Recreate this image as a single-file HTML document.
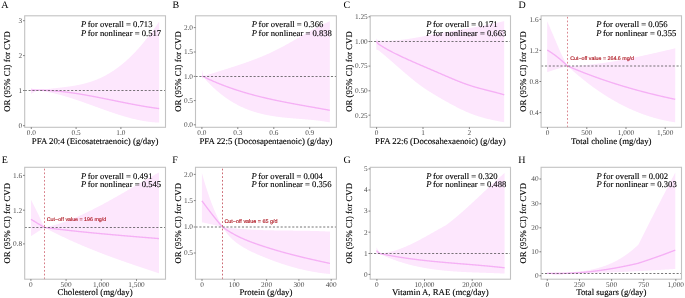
<!DOCTYPE html>
<html><head><meta charset="utf-8"><style>
html,body{margin:0;padding:0;background:#fff;}
svg{display:block;will-change:transform;text-rendering:geometricPrecision;}
.tk{font-family:"Liberation Serif",serif;font-size:7.3px;fill:#4d4d4d;}
.ti{font-family:"Liberation Serif",serif;font-size:8.8px;fill:#000;stroke:#000;stroke-width:0.12px;}
.pv{font-family:"Liberation Serif",serif;font-size:8.63px;fill:#000;stroke:#000;stroke-width:0.12px;}
.lt{font-family:"Liberation Serif",serif;font-size:10px;fill:#000;}
</style></head><body>
<svg width="685" height="298" viewBox="0 0 685 298">
<rect width="685" height="298" fill="#fff"/>
<path d="M31 88.1 L31.5 88.33 L32 88.55 L32.5 88.76 L33 88.95 L33.5 89.14 L34 89.3 L34.5 89.45 L35 89.6 L35.5 89.74 L36 89.87 L36.5 90 L37 90.11 L37.5 90.21 L38 90.3 L38.5 90.22 L39 90.15 L39.5 90.07 L40 90 L40.5 89.93 L41 89.86 L41.5 89.79 L42 89.72 L42.5 89.65 L43 89.59 L43.5 89.52 L44 89.46 L44.5 89.4 L45 89.33 L45.5 89.27 L46 89.21 L46.5 89.15 L47 89.09 L47.5 89.03 L48 88.97 L48.5 88.92 L49 88.86 L49.5 88.8 L50 88.75 L50.5 88.69 L51 88.64 L51.5 88.58 L52 88.53 L52.5 88.47 L53 88.42 L53.5 88.36 L54 88.31 L54.5 88.25 L55 88.2 L55.5 88.15 L56 88.09 L56.5 88.04 L57 87.98 L57.5 87.93 L58 87.87 L58.5 87.82 L59 87.76 L59.5 87.71 L60 87.65 L60.5 87.59 L61 87.54 L61.5 87.48 L62 87.42 L62.5 87.36 L63 87.3 L63.5 87.24 L64 87.18 L64.5 87.12 L65 87.06 L65.5 87 L66 86.93 L66.5 86.87 L67 86.8 L67.5 86.73 L68 86.66 L68.5 86.59 L69 86.52 L69.5 86.45 L70 86.38 L70.5 86.31 L71 86.23 L71.5 86.15 L72 86.07 L72.5 86 L73 85.91 L73.5 85.83 L74 85.75 L74.5 85.66 L75 85.57 L75.5 85.48 L76 85.39 L76.5 85.3 L77 85.21 L77.5 85.11 L78 85.01 L78.5 84.91 L79 84.81 L79.5 84.7 L80 84.6 L80.5 84.49 L81 84.38 L81.5 84.27 L82 84.15 L82.5 84.03 L83 83.91 L83.5 83.79 L84 83.67 L84.5 83.54 L85 83.41 L85.5 83.28 L86 83.14 L86.5 83.01 L87 82.87 L87.5 82.72 L88 82.58 L88.5 82.43 L89 82.28 L89.5 82.13 L90 81.97 L90.5 81.81 L91 81.65 L91.5 81.48 L92 81.31 L92.5 81.14 L93 80.97 L93.5 80.79 L94 80.61 L94.5 80.42 L95 80.23 L95.5 80.04 L96 79.85 L96.5 79.65 L97 79.45 L97.5 79.24 L98 79.03 L98.5 78.82 L99 78.6 L99.5 78.38 L100 78.16 L100.5 77.93 L101 77.7 L101.5 77.47 L102 77.23 L102.5 76.98 L103 76.74 L103.5 76.49 L104 76.23 L104.5 75.97 L105 75.71 L105.5 75.45 L106 75.18 L106.5 74.9 L107 74.62 L107.5 74.34 L108 74.06 L108.5 73.77 L109 73.47 L109.5 73.17 L110 72.87 L110.5 72.56 L111 72.25 L111.5 71.94 L112 71.62 L112.5 71.3 L113 70.97 L113.5 70.64 L114 70.3 L114.5 69.96 L115 69.62 L115.5 69.27 L116 68.92 L116.5 68.56 L117 68.2 L117.5 67.83 L118 67.46 L118.5 67.09 L119 66.71 L119.5 66.33 L120 65.94 L120.5 65.55 L121 65.16 L121.5 64.75 L122 64.35 L122.5 63.94 L123 63.53 L123.5 63.11 L124 62.69 L124.5 62.26 L125 61.83 L125.5 61.39 L126 60.95 L126.5 60.51 L127 60.06 L127.5 59.6 L128 59.14 L128.5 58.68 L129 58.21 L129.5 57.74 L130 57.26 L130.5 56.78 L131 56.29 L131.5 55.8 L132 55.3 L132.5 54.8 L133 54.3 L133.5 53.78 L134 53.27 L134.5 52.75 L135 52.22 L135.5 51.69 L136 51.16 L136.5 50.62 L137 50.07 L137.5 49.53 L138 48.97 L138.5 48.41 L139 47.85 L139.5 47.28 L140 46.71 L140.5 46.13 L141 45.55 L141.5 44.96 L142 44.37 L142.5 43.77 L143 43.17 L143.5 42.56 L144 41.96 L144.5 41.34 L145 40.72 L145.5 40.1 L146 39.48 L146.5 38.84 L147 38.21 L147.5 37.57 L148 36.93 L148.5 36.28 L149 35.63 L149.5 34.98 L150 34.32 L150.5 33.66 L151 32.99 L151.5 32.33 L152 31.65 L152.5 30.98 L153 30.3 L153.5 29.61 L154 28.93 L154.5 28.24 L155 27.55 L155.5 26.85 L156 26.15 L156.5 25.45 L157 24.74 L157.5 24.03 L158 23.32 L158.5 22.6 L159 21.89 L159.2 21.6 L159.2 122.6 L159 122.59 L158.5 122.58 L158 122.56 L157.5 122.53 L157 122.51 L156.5 122.48 L156 122.45 L155.5 122.42 L155 122.39 L154.5 122.35 L154 122.31 L153.5 122.27 L153 122.23 L152.5 122.18 L152 122.13 L151.5 122.08 L151 122.03 L150.5 121.97 L150 121.91 L149.5 121.85 L149 121.79 L148.5 121.73 L148 121.66 L147.5 121.59 L147 121.52 L146.5 121.45 L146 121.37 L145.5 121.3 L145 121.22 L144.5 121.14 L144 121.05 L143.5 120.97 L143 120.88 L142.5 120.79 L142 120.7 L141.5 120.61 L141 120.51 L140.5 120.42 L140 120.32 L139.5 120.22 L139 120.12 L138.5 120.01 L138 119.91 L137.5 119.8 L137 119.69 L136.5 119.58 L136 119.47 L135.5 119.35 L135 119.24 L134.5 119.12 L134 119 L133.5 118.88 L133 118.76 L132.5 118.64 L132 118.51 L131.5 118.39 L131 118.26 L130.5 118.13 L130 118 L129.5 117.86 L129 117.73 L128.5 117.6 L128 117.46 L127.5 117.32 L127 117.18 L126.5 117.04 L126 116.9 L125.5 116.76 L125 116.61 L124.5 116.47 L124 116.32 L123.5 116.17 L123 116.02 L122.5 115.87 L122 115.72 L121.5 115.57 L121 115.42 L120.5 115.26 L120 115.11 L119.5 114.95 L119 114.79 L118.5 114.64 L118 114.48 L117.5 114.32 L117 114.15 L116.5 113.99 L116 113.83 L115.5 113.67 L115 113.5 L114.5 113.34 L114 113.17 L113.5 113 L113 112.83 L112.5 112.67 L112 112.5 L111.5 112.33 L111 112.16 L110.5 111.98 L110 111.81 L109.5 111.64 L109 111.47 L108.5 111.29 L108 111.12 L107.5 110.94 L107 110.77 L106.5 110.59 L106 110.42 L105.5 110.24 L105 110.06 L104.5 109.88 L104 109.71 L103.5 109.53 L103 109.35 L102.5 109.17 L102 108.99 L101.5 108.81 L101 108.63 L100.5 108.45 L100 108.27 L99.5 108.09 L99 107.91 L98.5 107.73 L98 107.55 L97.5 107.37 L97 107.18 L96.5 107 L96 106.82 L95.5 106.64 L95 106.46 L94.5 106.28 L94 106.09 L93.5 105.91 L93 105.73 L92.5 105.55 L92 105.37 L91.5 105.19 L91 105.01 L90.5 104.82 L90 104.64 L89.5 104.46 L89 104.28 L88.5 104.1 L88 103.92 L87.5 103.74 L87 103.56 L86.5 103.38 L86 103.2 L85.5 103.03 L85 102.85 L84.5 102.67 L84 102.49 L83.5 102.32 L83 102.14 L82.5 101.96 L82 101.79 L81.5 101.61 L81 101.44 L80.5 101.26 L80 101.09 L79.5 100.92 L79 100.75 L78.5 100.57 L78 100.4 L77.5 100.23 L77 100.06 L76.5 99.89 L76 99.73 L75.5 99.56 L75 99.39 L74.5 99.23 L74 99.06 L73.5 98.9 L73 98.73 L72.5 98.57 L72 98.41 L71.5 98.25 L71 98.09 L70.5 97.93 L70 97.77 L69.5 97.62 L69 97.46 L68.5 97.3 L68 97.15 L67.5 97 L67 96.85 L66.5 96.7 L66 96.55 L65.5 96.4 L65 96.25 L64.5 96.11 L64 95.96 L63.5 95.82 L63 95.67 L62.5 95.53 L62 95.39 L61.5 95.26 L61 95.12 L60.5 94.98 L60 94.85 L59.5 94.72 L59 94.58 L58.5 94.45 L58 94.33 L57.5 94.2 L57 94.07 L56.5 93.95 L56 93.83 L55.5 93.71 L55 93.59 L54.5 93.47 L54 93.35 L53.5 93.24 L53 93.12 L52.5 93.01 L52 92.9 L51.5 92.8 L51 92.69 L50.5 92.58 L50 92.48 L49.5 92.38 L49 92.28 L48.5 92.18 L48 92.09 L47.5 92 L47 91.9 L46.5 91.81 L46 91.73 L45.5 91.64 L45 91.56 L44.5 91.48 L44 91.4 L43.5 91.32 L43 91.24 L42.5 91.17 L42 91.1 L41.5 91.03 L41 90.96 L40.5 90.89 L40 90.83 L39.5 90.77 L39 90.71 L38.5 90.66 L38 90.6 L37.5 90.78 L37 90.96 L36.5 91.15 L36 91.35 L35.5 91.55 L35 91.76 L34.5 91.98 L34 92.2 L33.5 92.43 L33 92.67 L32.5 92.91 L32 93.17 L31.5 93.43 L31 93.7 Z" fill="#fde7fd"/>
<path d="M31 90.3 L31.5 90.28 L32 90.27 L32.5 90.25 L33 90.24 L33.5 90.22 L34 90.21 L34.5 90.2 L35 90.2 L35.5 90.19 L36 90.18 L36.5 90.18 L37 90.18 L37.5 90.18 L38 90.18 L38.5 90.18 L39 90.18 L39.5 90.18 L40 90.19 L40.5 90.2 L41 90.2 L41.5 90.21 L42 90.22 L42.5 90.24 L43 90.25 L43.5 90.26 L44 90.28 L44.5 90.3 L45 90.31 L45.5 90.33 L46 90.35 L46.5 90.38 L47 90.4 L47.5 90.42 L48 90.45 L48.5 90.47 L49 90.5 L49.5 90.53 L50 90.56 L50.5 90.59 L51 90.62 L51.5 90.66 L52 90.69 L52.5 90.73 L53 90.76 L53.5 90.8 L54 90.84 L54.5 90.88 L55 90.92 L55.5 90.96 L56 91 L56.5 91.05 L57 91.09 L57.5 91.14 L58 91.18 L58.5 91.23 L59 91.28 L59.5 91.33 L60 91.38 L60.5 91.43 L61 91.48 L61.5 91.54 L62 91.59 L62.5 91.65 L63 91.7 L63.5 91.76 L64 91.82 L64.5 91.88 L65 91.94 L65.5 92 L66 92.06 L66.5 92.12 L67 92.18 L67.5 92.25 L68 92.31 L68.5 92.38 L69 92.44 L69.5 92.51 L70 92.58 L70.5 92.65 L71 92.72 L71.5 92.79 L72 92.86 L72.5 92.93 L73 93 L73.5 93.08 L74 93.15 L74.5 93.22 L75 93.3 L75.5 93.38 L76 93.45 L76.5 93.53 L77 93.61 L77.5 93.69 L78 93.76 L78.5 93.84 L79 93.92 L79.5 94.01 L80 94.09 L80.5 94.17 L81 94.25 L81.5 94.34 L82 94.42 L82.5 94.5 L83 94.59 L83.5 94.67 L84 94.76 L84.5 94.85 L85 94.93 L85.5 95.02 L86 95.11 L86.5 95.2 L87 95.29 L87.5 95.38 L88 95.47 L88.5 95.56 L89 95.65 L89.5 95.74 L90 95.83 L90.5 95.92 L91 96.02 L91.5 96.11 L92 96.2 L92.5 96.3 L93 96.39 L93.5 96.49 L94 96.58 L94.5 96.68 L95 96.77 L95.5 96.87 L96 96.96 L96.5 97.06 L97 97.16 L97.5 97.25 L98 97.35 L98.5 97.45 L99 97.55 L99.5 97.64 L100 97.74 L100.5 97.84 L101 97.94 L101.5 98.04 L102 98.14 L102.5 98.24 L103 98.34 L103.5 98.44 L104 98.54 L104.5 98.64 L105 98.74 L105.5 98.84 L106 98.94 L106.5 99.04 L107 99.14 L107.5 99.24 L108 99.34 L108.5 99.44 L109 99.54 L109.5 99.65 L110 99.75 L110.5 99.85 L111 99.95 L111.5 100.05 L112 100.15 L112.5 100.26 L113 100.36 L113.5 100.46 L114 100.56 L114.5 100.66 L115 100.76 L115.5 100.86 L116 100.97 L116.5 101.07 L117 101.17 L117.5 101.27 L118 101.37 L118.5 101.47 L119 101.57 L119.5 101.68 L120 101.78 L120.5 101.88 L121 101.98 L121.5 102.08 L122 102.18 L122.5 102.28 L123 102.38 L123.5 102.48 L124 102.58 L124.5 102.68 L125 102.78 L125.5 102.88 L126 102.97 L126.5 103.07 L127 103.17 L127.5 103.27 L128 103.37 L128.5 103.47 L129 103.56 L129.5 103.66 L130 103.76 L130.5 103.85 L131 103.95 L131.5 104.05 L132 104.14 L132.5 104.24 L133 104.33 L133.5 104.43 L134 104.52 L134.5 104.61 L135 104.71 L135.5 104.8 L136 104.89 L136.5 104.99 L137 105.08 L137.5 105.17 L138 105.26 L138.5 105.35 L139 105.44 L139.5 105.53 L140 105.62 L140.5 105.71 L141 105.8 L141.5 105.88 L142 105.97 L142.5 106.06 L143 106.14 L143.5 106.23 L144 106.31 L144.5 106.4 L145 106.48 L145.5 106.57 L146 106.65 L146.5 106.73 L147 106.81 L147.5 106.89 L148 106.97 L148.5 107.05 L149 107.13 L149.5 107.21 L150 107.29 L150.5 107.37 L151 107.44 L151.5 107.52 L152 107.6 L152.5 107.67 L153 107.74 L153.5 107.82 L154 107.89 L154.5 107.96 L155 108.03 L155.5 108.1 L156 108.17 L156.5 108.24 L157 108.31 L157.5 108.38 L158 108.44 L158.5 108.51 L159 108.57 L159.2 108.6" fill="none" stroke="#f5b0f5" stroke-width="1.35" stroke-linejoin="round"/>
<line x1="24.7" y1="90.5" x2="165.5" y2="90.5" stroke="#4a4a4a" stroke-width="0.75" stroke-dasharray="2.1 1.77"/>
<rect x="24.7" y="15.8" width="140.8" height="111.5" fill="none" stroke="#c2c2c2" stroke-width="1.1"/>
<line x1="23" y1="125.7" x2="24.7" y2="125.7" stroke="#4d4d4d" stroke-width="0.7"/>
<text x="22.2" y="128.05" text-anchor="end" class="tk">0</text>
<line x1="23" y1="90.5" x2="24.7" y2="90.5" stroke="#4d4d4d" stroke-width="0.7"/>
<text x="22.2" y="92.85" text-anchor="end" class="tk">1</text>
<line x1="23" y1="55.6" x2="24.7" y2="55.6" stroke="#4d4d4d" stroke-width="0.7"/>
<text x="22.2" y="57.95" text-anchor="end" class="tk">2</text>
<line x1="23" y1="20.7" x2="24.7" y2="20.7" stroke="#4d4d4d" stroke-width="0.7"/>
<text x="22.2" y="23.05" text-anchor="end" class="tk">3</text>
<line x1="31.3" y1="127.3" x2="31.3" y2="129" stroke="#4d4d4d" stroke-width="0.7"/>
<text x="31.3" y="135.1" text-anchor="middle" class="tk">0.0</text>
<line x1="76.1" y1="127.3" x2="76.1" y2="129" stroke="#4d4d4d" stroke-width="0.7"/>
<text x="76.1" y="135.1" text-anchor="middle" class="tk">0.5</text>
<line x1="120.9" y1="127.3" x2="120.9" y2="129" stroke="#4d4d4d" stroke-width="0.7"/>
<text x="120.9" y="135.1" text-anchor="middle" class="tk">1.0</text>
<text x="95.1" y="144.3" text-anchor="middle" class="ti">PFA 20:4 (Eicosatetraenoic) (g/day)</text>
<text transform="translate(9.8 71.55) rotate(-90)" text-anchor="middle" class="ti">OR (95% CI) for CVD</text>
<text x="81" y="26.7" class="pv"><tspan font-style="italic">P</tspan><tspan dx="-0.7"> for overall = 0.713</tspan></text>
<text x="81" y="35.6" class="pv"><tspan font-style="italic">P</tspan><tspan dx="-0.7"> for nonlinear = 0.517</tspan></text>
<text x="1.3" y="7.9" class="lt">A</text>
<path d="M202 70 L202.5 72.12 L203 74.23 L203.3 75.5 L203.8 75.48 L204.3 75.46 L204.8 75.44 L205.3 75.43 L205.8 75.41 L206 75.4 L206.5 75.24 L207 75.08 L207.5 74.92 L208 74.75 L208.5 74.59 L209 74.44 L209.5 74.28 L210 74.12 L210.5 73.96 L211 73.8 L211.5 73.64 L212 73.48 L212.5 73.33 L213 73.17 L213.5 73.01 L214 72.85 L214.5 72.7 L215 72.54 L215.5 72.38 L216 72.23 L216.5 72.07 L217 71.91 L217.5 71.76 L218 71.6 L218.5 71.45 L219 71.29 L219.5 71.13 L220 70.98 L220.5 70.82 L221 70.67 L221.5 70.51 L222 70.36 L222.5 70.2 L223 70.04 L223.5 69.89 L224 69.73 L224.5 69.57 L225 69.42 L225.5 69.26 L226 69.1 L226.5 68.95 L227 68.79 L227.5 68.63 L228 68.48 L228.5 68.32 L229 68.16 L229.5 68 L230 67.84 L230.5 67.68 L231 67.53 L231.5 67.37 L232 67.21 L232.5 67.05 L233 66.89 L233.5 66.73 L234 66.56 L234.5 66.4 L235 66.24 L235.5 66.08 L236 65.91 L236.5 65.75 L237 65.59 L237.5 65.42 L238 65.26 L238.5 65.09 L239 64.93 L239.5 64.76 L240 64.59 L240.5 64.42 L241 64.26 L241.5 64.09 L242 63.92 L242.5 63.75 L243 63.58 L243.5 63.41 L244 63.23 L244.5 63.06 L245 62.89 L245.5 62.71 L246 62.54 L246.5 62.36 L247 62.18 L247.5 62.01 L248 61.83 L248.5 61.65 L249 61.47 L249.5 61.29 L250 61.11 L250.5 60.92 L251 60.74 L251.5 60.56 L252 60.37 L252.5 60.18 L253 60 L253.5 59.81 L254 59.62 L254.5 59.43 L255 59.24 L255.5 59.04 L256 58.85 L256.5 58.66 L257 58.46 L257.5 58.26 L258 58.07 L258.5 57.87 L259 57.67 L259.5 57.47 L260 57.26 L260.5 57.06 L261 56.86 L261.5 56.65 L262 56.44 L262.5 56.23 L263 56.02 L263.5 55.81 L264 55.6 L264.5 55.39 L265 55.17 L265.5 54.96 L266 54.74 L266.5 54.52 L267 54.3 L267.5 54.08 L268 53.85 L268.5 53.63 L269 53.4 L269.5 53.18 L270 52.95 L270.5 52.72 L271 52.48 L271.5 52.25 L272 52.02 L272.5 51.78 L273 51.54 L273.5 51.3 L274 51.06 L274.5 50.82 L275 50.57 L275.5 50.33 L276 50.08 L276.5 49.83 L277 49.58 L277.5 49.33 L278 49.07 L278.5 48.82 L279 48.56 L279.5 48.3 L280 48.04 L280.5 47.78 L281 47.51 L281.5 47.25 L282 46.98 L282.5 46.72 L283 46.45 L283.5 46.18 L284 45.91 L284.5 45.64 L285 45.36 L285.5 45.09 L286 44.82 L286.5 44.54 L287 44.26 L287.5 43.99 L288 43.71 L288.5 43.43 L289 43.15 L289.5 42.87 L290 42.59 L290.5 42.31 L291 42.02 L291.5 41.74 L292 41.46 L292.5 41.17 L293 40.89 L293.5 40.6 L294 40.32 L294.5 40.03 L295 39.75 L295.5 39.46 L296 39.17 L296.5 38.89 L297 38.6 L297.5 38.31 L298 38.02 L298.5 37.74 L299 37.45 L299.5 37.16 L300 36.87 L300.5 36.59 L301 36.3 L301.5 36.01 L302 35.73 L302.5 35.44 L303 35.15 L303.5 34.87 L304 34.58 L304.5 34.3 L305 34.01 L305.5 33.73 L306 33.44 L306.5 33.16 L307 32.88 L307.5 32.59 L308 32.31 L308.5 32.03 L309 31.75 L309.5 31.47 L310 31.19 L310.5 30.91 L311 30.64 L311.5 30.36 L312 30.09 L312.5 29.81 L313 29.54 L313.5 29.27 L314 29 L314.5 28.73 L315 28.46 L315.5 28.19 L316 27.92 L316.5 27.66 L317 27.39 L317.5 27.13 L318 26.87 L318.5 26.61 L319 26.35 L319.5 26.1 L320 25.84 L320.5 25.59 L321 25.33 L321.5 25.08 L322 24.84 L322.5 24.59 L323 24.34 L323.5 24.1 L324 23.86 L324.5 23.62 L325 23.38 L325.5 23.14 L326 22.91 L326.5 22.68 L327 22.45 L327.5 22.22 L328 21.99 L328.5 21.77 L329 21.55 L329.5 21.33 L329.8 21.2 L329.8 122.4 L329.5 122.34 L329 122.25 L328.5 122.16 L328 122.07 L327.5 121.99 L327 121.9 L326.5 121.82 L326 121.73 L325.5 121.65 L325 121.58 L324.5 121.5 L324 121.42 L323.5 121.35 L323 121.27 L322.5 121.2 L322 121.13 L321.5 121.06 L321 120.99 L320.5 120.93 L320 120.86 L319.5 120.8 L319 120.74 L318.5 120.67 L318 120.61 L317.5 120.55 L317 120.5 L316.5 120.44 L316 120.38 L315.5 120.33 L315 120.27 L314.5 120.22 L314 120.17 L313.5 120.11 L313 120.06 L312.5 120.01 L312 119.96 L311.5 119.92 L311 119.87 L310.5 119.82 L310 119.77 L309.5 119.73 L309 119.68 L308.5 119.64 L308 119.59 L307.5 119.55 L307 119.51 L306.5 119.46 L306 119.42 L305.5 119.38 L305 119.34 L304.5 119.3 L304 119.26 L303.5 119.22 L303 119.18 L302.5 119.14 L302 119.1 L301.5 119.06 L301 119.02 L300.5 118.98 L300 118.94 L299.5 118.9 L299 118.86 L298.5 118.82 L298 118.78 L297.5 118.74 L297 118.7 L296.5 118.66 L296 118.62 L295.5 118.58 L295 118.54 L294.5 118.5 L294 118.46 L293.5 118.42 L293 118.38 L292.5 118.34 L292 118.29 L291.5 118.25 L291 118.21 L290.5 118.16 L290 118.12 L289.5 118.08 L289 118.03 L288.5 117.98 L288 117.94 L287.5 117.89 L287 117.84 L286.5 117.8 L286 117.75 L285.5 117.7 L285 117.65 L284.5 117.59 L284 117.54 L283.5 117.49 L283 117.43 L282.5 117.38 L282 117.32 L281.5 117.27 L281 117.21 L280.5 117.15 L280 117.09 L279.5 117.03 L279 116.96 L278.5 116.9 L278 116.84 L277.5 116.77 L277 116.7 L276.5 116.63 L276 116.56 L275.5 116.49 L275 116.42 L274.5 116.35 L274 116.27 L273.5 116.19 L273 116.12 L272.5 116.03 L272 115.95 L271.5 115.87 L271 115.79 L270.5 115.7 L270 115.61 L269.5 115.52 L269 115.43 L268.5 115.34 L268 115.24 L267.5 115.14 L267 115.05 L266.5 114.94 L266 114.84 L265.5 114.74 L265 114.63 L264.5 114.52 L264 114.41 L263.5 114.3 L263 114.19 L262.5 114.07 L262 113.95 L261.5 113.83 L261 113.71 L260.5 113.58 L260 113.45 L259.5 113.32 L259 113.19 L258.5 113.06 L258 112.92 L257.5 112.78 L257 112.64 L256.5 112.49 L256 112.35 L255.5 112.2 L255 112.05 L254.5 111.89 L254 111.73 L253.5 111.57 L253 111.41 L252.5 111.25 L252 111.08 L251.5 110.91 L251 110.74 L250.5 110.56 L250 110.38 L249.5 110.2 L249 110.01 L248.5 109.83 L248 109.64 L247.5 109.44 L247 109.25 L246.5 109.05 L246 108.84 L245.5 108.64 L245 108.43 L244.5 108.22 L244 108 L243.5 107.78 L243 107.56 L242.5 107.34 L242 107.11 L241.5 106.88 L241 106.64 L240.5 106.4 L240 106.16 L239.5 105.92 L239 105.67 L238.5 105.42 L238 105.16 L237.5 104.9 L237 104.64 L236.5 104.37 L236 104.1 L235.5 103.83 L235 103.55 L234.5 103.27 L234 102.98 L233.5 102.69 L233 102.4 L232.5 102.11 L232 101.81 L231.5 101.5 L231 101.19 L230.5 100.88 L230 100.56 L229.5 100.24 L229 99.92 L228.5 99.59 L228 99.26 L227.5 98.92 L227 98.58 L226.5 98.24 L226 97.89 L225.5 97.53 L225 97.17 L224.5 96.81 L224 96.45 L223.5 96.07 L223 95.7 L222.5 95.32 L222 94.93 L221.5 94.55 L221 94.15 L220.5 93.75 L220 93.35 L219.5 92.95 L219 92.53 L218.5 92.12 L218 91.7 L217.5 91.27 L217 90.84 L216.5 90.4 L216 89.96 L215.5 89.52 L215 89.07 L214.5 88.61 L214 88.15 L213.5 87.69 L213 87.22 L212.5 86.74 L212 86.26 L211.5 85.78 L211 85.29 L210.5 84.79 L210 84.29 L209.5 83.79 L209 83.28 L208.5 82.76 L208 82.24 L207.5 81.71 L207 81.18 L206.5 80.64 L206 80.1 L205.8 79.84 L205.3 79.19 L204.8 78.54 L204.3 77.9 L203.8 77.25 L203.3 76.6 L203 77.25 L202.5 78.32 L202 79.4 Z" fill="#fde7fd"/>
<path d="M202 76 L202.5 76.25 L203 76.49 L203.5 76.74 L204 76.98 L204.5 77.22 L205 77.46 L205.5 77.7 L206 77.93 L206.5 78.17 L207 78.4 L207.5 78.64 L208 78.87 L208.5 79.1 L209 79.33 L209.5 79.55 L210 79.78 L210.5 80 L211 80.23 L211.5 80.45 L212 80.67 L212.5 80.89 L213 81.11 L213.5 81.32 L214 81.54 L214.5 81.75 L215 81.96 L215.5 82.18 L216 82.39 L216.5 82.59 L217 82.8 L217.5 83.01 L218 83.21 L218.5 83.42 L219 83.62 L219.5 83.82 L220 84.02 L220.5 84.22 L221 84.42 L221.5 84.62 L222 84.81 L222.5 85 L223 85.2 L223.5 85.39 L224 85.58 L224.5 85.77 L225 85.96 L225.5 86.15 L226 86.33 L226.5 86.52 L227 86.7 L227.5 86.88 L228 87.07 L228.5 87.25 L229 87.43 L229.5 87.6 L230 87.78 L230.5 87.96 L231 88.13 L231.5 88.31 L232 88.48 L232.5 88.65 L233 88.82 L233.5 88.99 L234 89.16 L234.5 89.33 L235 89.5 L235.5 89.66 L236 89.83 L236.5 89.99 L237 90.15 L237.5 90.31 L238 90.48 L238.5 90.64 L239 90.79 L239.5 90.95 L240 91.11 L240.5 91.26 L241 91.42 L241.5 91.57 L242 91.73 L242.5 91.88 L243 92.03 L243.5 92.18 L244 92.33 L244.5 92.48 L245 92.63 L245.5 92.77 L246 92.92 L246.5 93.07 L247 93.21 L247.5 93.35 L248 93.5 L248.5 93.64 L249 93.78 L249.5 93.92 L250 94.06 L250.5 94.2 L251 94.33 L251.5 94.47 L252 94.61 L252.5 94.74 L253 94.88 L253.5 95.01 L254 95.14 L254.5 95.28 L255 95.41 L255.5 95.54 L256 95.67 L256.5 95.8 L257 95.92 L257.5 96.05 L258 96.18 L258.5 96.31 L259 96.43 L259.5 96.56 L260 96.68 L260.5 96.8 L261 96.93 L261.5 97.05 L262 97.17 L262.5 97.29 L263 97.41 L263.5 97.53 L264 97.65 L264.5 97.77 L265 97.89 L265.5 98 L266 98.12 L266.5 98.24 L267 98.35 L267.5 98.47 L268 98.58 L268.5 98.69 L269 98.81 L269.5 98.92 L270 99.03 L270.5 99.14 L271 99.25 L271.5 99.36 L272 99.47 L272.5 99.58 L273 99.69 L273.5 99.8 L274 99.91 L274.5 100.01 L275 100.12 L275.5 100.23 L276 100.33 L276.5 100.44 L277 100.54 L277.5 100.64 L278 100.75 L278.5 100.85 L279 100.95 L279.5 101.06 L280 101.16 L280.5 101.26 L281 101.36 L281.5 101.46 L282 101.56 L282.5 101.66 L283 101.76 L283.5 101.86 L284 101.96 L284.5 102.06 L285 102.16 L285.5 102.26 L286 102.35 L286.5 102.45 L287 102.55 L287.5 102.64 L288 102.74 L288.5 102.83 L289 102.93 L289.5 103.03 L290 103.12 L290.5 103.21 L291 103.31 L291.5 103.4 L292 103.5 L292.5 103.59 L293 103.68 L293.5 103.78 L294 103.87 L294.5 103.96 L295 104.05 L295.5 104.15 L296 104.24 L296.5 104.33 L297 104.42 L297.5 104.51 L298 104.6 L298.5 104.69 L299 104.78 L299.5 104.88 L300 104.97 L300.5 105.06 L301 105.15 L301.5 105.24 L302 105.33 L302.5 105.42 L303 105.5 L303.5 105.59 L304 105.68 L304.5 105.77 L305 105.86 L305.5 105.95 L306 106.04 L306.5 106.13 L307 106.22 L307.5 106.31 L308 106.39 L308.5 106.48 L309 106.57 L309.5 106.66 L310 106.75 L310.5 106.84 L311 106.93 L311.5 107.01 L312 107.1 L312.5 107.19 L313 107.28 L313.5 107.37 L314 107.46 L314.5 107.54 L315 107.63 L315.5 107.72 L316 107.81 L316.5 107.9 L317 107.99 L317.5 108.08 L318 108.16 L318.5 108.25 L319 108.34 L319.5 108.43 L320 108.52 L320.5 108.61 L321 108.7 L321.5 108.79 L322 108.88 L322.5 108.97 L323 109.06 L323.5 109.15 L324 109.24 L324.5 109.33 L325 109.42 L325.5 109.51 L326 109.6 L326.5 109.69 L327 109.78 L327.5 109.88 L328 109.97 L328.5 110.06 L329 110.15 L329.5 110.24 L329.8 110.3" fill="none" stroke="#f5b0f5" stroke-width="1.35" stroke-linejoin="round"/>
<line x1="195.5" y1="76.5" x2="336.4" y2="76.5" stroke="#4a4a4a" stroke-width="0.75" stroke-dasharray="2.1 1.77"/>
<rect x="195.5" y="15.8" width="140.9" height="111.5" fill="none" stroke="#c2c2c2" stroke-width="1.1"/>
<line x1="193.8" y1="124.8" x2="195.5" y2="124.8" stroke="#4d4d4d" stroke-width="0.7"/>
<text x="193" y="127.15" text-anchor="end" class="tk">0.0</text>
<line x1="193.8" y1="100.6" x2="195.5" y2="100.6" stroke="#4d4d4d" stroke-width="0.7"/>
<text x="193" y="102.95" text-anchor="end" class="tk">0.5</text>
<line x1="193.8" y1="76.4" x2="195.5" y2="76.4" stroke="#4d4d4d" stroke-width="0.7"/>
<text x="193" y="78.75" text-anchor="end" class="tk">1.0</text>
<line x1="193.8" y1="52" x2="195.5" y2="52" stroke="#4d4d4d" stroke-width="0.7"/>
<text x="193" y="54.35" text-anchor="end" class="tk">1.5</text>
<line x1="193.8" y1="27.6" x2="195.5" y2="27.6" stroke="#4d4d4d" stroke-width="0.7"/>
<text x="193" y="29.95" text-anchor="end" class="tk">2.0</text>
<line x1="201.9" y1="127.3" x2="201.9" y2="129" stroke="#4d4d4d" stroke-width="0.7"/>
<text x="201.9" y="135.1" text-anchor="middle" class="tk">0.0</text>
<line x1="237.8" y1="127.3" x2="237.8" y2="129" stroke="#4d4d4d" stroke-width="0.7"/>
<text x="237.8" y="135.1" text-anchor="middle" class="tk">0.3</text>
<line x1="273.8" y1="127.3" x2="273.8" y2="129" stroke="#4d4d4d" stroke-width="0.7"/>
<text x="273.8" y="135.1" text-anchor="middle" class="tk">0.6</text>
<line x1="309.7" y1="127.3" x2="309.7" y2="129" stroke="#4d4d4d" stroke-width="0.7"/>
<text x="309.7" y="135.1" text-anchor="middle" class="tk">0.9</text>
<text x="265.95" y="144.3" text-anchor="middle" class="ti">PFA 22:5 (Docosapentaenoic) (g/day)</text>
<text transform="translate(181.4 71.55) rotate(-90)" text-anchor="middle" class="ti">OR (95% CI) for CVD</text>
<text x="251.8" y="26.7" class="pv"><tspan font-style="italic">P</tspan><tspan dx="-0.7"> for overall = 0.366</tspan></text>
<text x="251.8" y="35.6" class="pv"><tspan font-style="italic">P</tspan><tspan dx="-0.7"> for nonlinear = 0.838</tspan></text>
<text x="172.4" y="8.1" class="lt">B</text>
<path d="M376.3 38.5 L376.8 39.12 L377.3 39.74 L377.8 40.35 L378 40.6 L378.5 40.62 L379 40.64 L379.5 40.66 L380 40.68 L380.5 40.69 L381 40.71 L381.5 40.72 L382 40.73 L382.5 40.74 L383 40.75 L383.5 40.75 L384 40.75 L384.5 40.75 L385 40.75 L385.5 40.75 L386 40.75 L386.5 40.74 L387 40.74 L387.5 40.73 L388 40.72 L388.5 40.71 L389 40.69 L389.5 40.68 L390 40.66 L390.5 40.64 L391 40.62 L391.5 40.6 L392 40.57 L392.5 40.55 L393 40.52 L393.5 40.49 L394 40.46 L394.5 40.43 L395 40.4 L395.5 40.36 L396 40.33 L396.5 40.29 L397 40.25 L397.5 40.21 L398 40.16 L398.5 40.12 L399 40.07 L399.5 40.02 L400 39.98 L400.5 39.92 L401 39.87 L401.5 39.82 L402 39.76 L402.5 39.71 L403 39.65 L403.5 39.59 L404 39.53 L404.5 39.46 L405 39.4 L405.5 39.33 L406 39.27 L406.5 39.2 L407 39.13 L407.5 39.06 L408 38.98 L408.5 38.91 L409 38.84 L409.5 38.76 L410 38.68 L410.5 38.61 L411 38.53 L411.5 38.45 L412 38.37 L412.5 38.28 L413 38.2 L413.5 38.12 L414 38.03 L414.5 37.95 L415 37.86 L415.5 37.77 L416 37.69 L416.5 37.6 L417 37.51 L417.5 37.42 L418 37.33 L418.5 37.24 L419 37.15 L419.5 37.06 L420 36.96 L420.5 36.87 L421 36.78 L421.5 36.69 L422 36.59 L422.5 36.5 L423 36.41 L423.5 36.31 L424 36.22 L424.5 36.12 L425 36.03 L425.5 35.93 L426 35.84 L426.5 35.75 L427 35.65 L427.5 35.56 L428 35.46 L428.5 35.37 L429 35.27 L429.5 35.18 L430 35.09 L430.5 34.99 L431 34.9 L431.5 34.81 L432 34.72 L432.5 34.62 L433 34.53 L433.5 34.44 L434 34.35 L434.5 34.26 L435 34.17 L435.5 34.08 L436 33.99 L436.5 33.9 L437 33.81 L437.5 33.72 L438 33.63 L438.5 33.54 L439 33.45 L439.5 33.36 L440 33.27 L440.5 33.18 L441 33.09 L441.5 33 L442 32.92 L442.5 32.83 L443 32.74 L443.5 32.65 L444 32.56 L444.5 32.48 L445 32.39 L445.5 32.3 L446 32.21 L446.5 32.13 L447 32.04 L447.5 31.95 L448 31.87 L448.5 31.78 L449 31.69 L449.5 31.61 L450 31.52 L450.5 31.43 L451 31.35 L451.5 31.26 L452 31.17 L452.5 31.09 L453 31 L453.5 30.91 L454 30.83 L454.5 30.74 L455 30.65 L455.5 30.57 L456 30.48 L456.5 30.39 L457 30.31 L457.5 30.22 L458 30.13 L458.5 30.05 L459 29.96 L459.5 29.87 L460 29.78 L460.5 29.7 L461 29.61 L461.5 29.52 L462 29.44 L462.5 29.35 L463 29.26 L463.5 29.17 L464 29.09 L464.5 29 L465 28.91 L465.5 28.82 L466 28.73 L466.5 28.64 L467 28.56 L467.5 28.47 L468 28.38 L468.5 28.29 L469 28.2 L469.5 28.11 L470 28.02 L470.5 27.93 L471 27.84 L471.5 27.75 L472 27.66 L472.5 27.57 L473 27.48 L473.5 27.39 L474 27.3 L474.5 27.2 L475 27.11 L475.5 27.02 L476 26.93 L476.5 26.83 L477 26.74 L477.5 26.65 L478 26.56 L478.5 26.46 L479 26.37 L479.5 26.27 L480 26.18 L480.5 26.08 L481 25.99 L481.5 25.89 L482 25.8 L482.5 25.7 L483 25.6 L483.5 25.51 L484 25.41 L484.5 25.31 L485 25.21 L485.5 25.11 L486 25.01 L486.5 24.92 L487 24.82 L487.5 24.72 L488 24.61 L488.5 24.51 L489 24.41 L489.5 24.31 L490 24.21 L490.5 24.11 L491 24 L491.5 23.9 L492 23.8 L492.5 23.69 L493 23.59 L493.5 23.48 L494 23.37 L494.5 23.27 L495 23.16 L495.5 23.05 L496 22.95 L496.5 22.84 L497 22.73 L497.5 22.62 L498 22.51 L498.5 22.4 L499 22.29 L499.5 22.18 L500 22.06 L500.5 21.95 L501 21.84 L501.5 21.73 L502 21.61 L502.5 21.5 L503 21.38 L503.5 21.26 L504 21.15 L504.2 21.1 L504.2 122.3 L503.7 122.21 L503.2 122.11 L502.7 122.02 L502.2 121.93 L501.7 121.83 L501.2 121.74 L500.7 121.65 L500.2 121.55 L499.7 121.45 L499.2 121.36 L498.7 121.26 L498.2 121.16 L497.7 121.07 L497.2 120.97 L496.7 120.87 L496.2 120.77 L495.7 120.67 L495.2 120.56 L494.7 120.46 L494.2 120.36 L493.7 120.25 L493.2 120.14 L492.7 120.04 L492.2 119.93 L491.7 119.82 L491.2 119.71 L490.7 119.59 L490.2 119.48 L489.7 119.37 L489.2 119.25 L488.7 119.13 L488.2 119.01 L487.7 118.89 L487.2 118.77 L486.7 118.65 L486.2 118.52 L485.7 118.39 L485.2 118.27 L484.7 118.13 L484.2 118 L483.7 117.87 L483.2 117.73 L482.7 117.59 L482.2 117.45 L481.7 117.31 L481.2 117.17 L480.7 117.02 L480.2 116.87 L479.7 116.72 L479.2 116.57 L478.7 116.42 L478.2 116.26 L477.7 116.1 L477.2 115.94 L476.7 115.77 L476.2 115.61 L475.7 115.44 L475.2 115.27 L474.7 115.09 L474.2 114.92 L473.7 114.74 L473.2 114.55 L472.7 114.37 L472.2 114.18 L471.7 113.99 L471.2 113.8 L470.7 113.6 L470.2 113.4 L469.7 113.2 L469.2 113 L468.7 112.79 L468.2 112.58 L467.7 112.37 L467.2 112.15 L466.7 111.94 L466.2 111.72 L465.7 111.49 L465.2 111.27 L464.7 111.04 L464.2 110.81 L463.7 110.58 L463.2 110.35 L462.7 110.11 L462.2 109.87 L461.7 109.64 L461.2 109.39 L460.7 109.15 L460.2 108.9 L459.7 108.66 L459.2 108.41 L458.7 108.16 L458.2 107.91 L457.7 107.65 L457.2 107.4 L456.7 107.14 L456.2 106.88 L455.7 106.62 L455.2 106.36 L454.7 106.1 L454.2 105.84 L453.7 105.57 L453.2 105.31 L452.7 105.04 L452.2 104.77 L451.7 104.5 L451.2 104.23 L450.7 103.96 L450.2 103.69 L449.7 103.42 L449.2 103.14 L448.7 102.87 L448.2 102.59 L447.7 102.31 L447.2 102.04 L446.7 101.76 L446.2 101.48 L445.7 101.2 L445.2 100.91 L444.7 100.63 L444.2 100.35 L443.7 100.06 L443.2 99.78 L442.7 99.49 L442.2 99.21 L441.7 98.92 L441.2 98.63 L440.7 98.34 L440.2 98.05 L439.7 97.76 L439.2 97.47 L438.7 97.18 L438.2 96.89 L437.7 96.6 L437.2 96.3 L436.7 96.01 L436.2 95.71 L435.7 95.42 L435.2 95.12 L434.7 94.82 L434.2 94.52 L433.7 94.22 L433.2 93.92 L432.7 93.61 L432.2 93.3 L431.7 93 L431.2 92.69 L430.7 92.37 L430.2 92.06 L429.7 91.75 L429.2 91.43 L428.7 91.11 L428.2 90.79 L427.7 90.47 L427.2 90.14 L426.7 89.81 L426.2 89.48 L425.7 89.15 L425.2 88.81 L424.7 88.48 L424.2 88.14 L423.7 87.79 L423.2 87.45 L422.7 87.1 L422.2 86.75 L421.7 86.39 L421.2 86.03 L420.7 85.67 L420.2 85.31 L419.7 84.94 L419.2 84.57 L418.7 84.2 L418.2 83.82 L417.7 83.44 L417.2 83.06 L416.7 82.68 L416.2 82.29 L415.7 81.9 L415.2 81.5 L414.7 81.11 L414.2 80.71 L413.7 80.31 L413.2 79.91 L412.7 79.5 L412.2 79.1 L411.7 78.69 L411.2 78.28 L410.7 77.86 L410.2 77.45 L409.7 77.03 L409.2 76.61 L408.7 76.19 L408.2 75.77 L407.7 75.35 L407.2 74.92 L406.7 74.5 L406.2 74.07 L405.7 73.64 L405.2 73.22 L404.7 72.79 L404.2 72.35 L403.7 71.92 L403.2 71.49 L402.7 71.06 L402.2 70.62 L401.7 70.19 L401.2 69.76 L400.7 69.32 L400.2 68.88 L399.7 68.45 L399.2 68.01 L398.7 67.58 L398.2 67.14 L397.7 66.7 L397.2 66.26 L396.7 65.83 L396.2 65.39 L395.7 64.95 L395.2 64.51 L394.7 64.08 L394.2 63.64 L393.7 63.2 L393.2 62.77 L392.7 62.33 L392.2 61.89 L391.7 61.46 L391.2 61.02 L390.7 60.59 L390.2 60.15 L389.7 59.72 L389.2 59.29 L388.7 58.85 L388.2 58.42 L387.7 57.99 L387.2 57.56 L386.7 57.13 L386.2 56.7 L385.7 56.27 L385.2 55.84 L384.7 55.42 L384.2 54.99 L383.7 54.57 L383.2 54.15 L382.7 53.72 L382.2 53.3 L381.7 52.89 L381.2 52.47 L380.7 52.05 L380.2 51.64 L379.7 51.22 L379.2 50.81 L378.7 50.4 L378.3 50.25 L377.8 50.06 L377.3 49.88 L376.8 49.69 L376.3 49.5 Z" fill="#fde7fd"/>
<path d="M376.3 41.5 L376.8 42.07 L377.3 42.64 L377.8 43.2 L378.3 43.77 L378.5 44 L379 44.34 L379.5 44.67 L380 45 L380.5 45.33 L381 45.65 L381.5 45.97 L382 46.29 L382.5 46.6 L383 46.91 L383.5 47.21 L384 47.51 L384.5 47.81 L385 48.11 L385.5 48.4 L386 48.69 L386.5 48.98 L387 49.27 L387.5 49.55 L388 49.83 L388.5 50.1 L389 50.38 L389.5 50.65 L390 50.92 L390.5 51.18 L391 51.45 L391.5 51.71 L392 51.97 L392.5 52.23 L393 52.49 L393.5 52.74 L394 52.99 L394.5 53.24 L395 53.49 L395.5 53.74 L396 53.99 L396.5 54.23 L397 54.47 L397.5 54.71 L398 54.95 L398.5 55.19 L399 55.43 L399.5 55.67 L400 55.9 L400.5 56.14 L401 56.37 L401.5 56.61 L402 56.84 L402.5 57.07 L403 57.3 L403.5 57.53 L404 57.76 L404.5 57.99 L405 58.22 L405.5 58.45 L406 58.67 L406.5 58.9 L407 59.13 L407.5 59.35 L408 59.58 L408.5 59.8 L409 60.03 L409.5 60.25 L410 60.47 L410.5 60.7 L411 60.92 L411.5 61.14 L412 61.37 L412.5 61.59 L413 61.81 L413.5 62.03 L414 62.25 L414.5 62.47 L415 62.69 L415.5 62.91 L416 63.13 L416.5 63.35 L417 63.56 L417.5 63.78 L418 64 L418.5 64.22 L419 64.44 L419.5 64.65 L420 64.87 L420.5 65.09 L421 65.3 L421.5 65.52 L422 65.73 L422.5 65.95 L423 66.17 L423.5 66.38 L424 66.6 L424.5 66.81 L425 67.03 L425.5 67.24 L426 67.46 L426.5 67.67 L427 67.88 L427.5 68.1 L428 68.31 L428.5 68.53 L429 68.74 L429.5 68.96 L430 69.17 L430.5 69.38 L431 69.6 L431.5 69.81 L432 70.03 L432.5 70.24 L433 70.45 L433.5 70.67 L434 70.88 L434.5 71.1 L435 71.31 L435.5 71.53 L436 71.74 L436.5 71.96 L437 72.17 L437.5 72.38 L438 72.6 L438.5 72.81 L439 73.03 L439.5 73.25 L440 73.46 L440.5 73.68 L441 73.89 L441.5 74.11 L442 74.32 L442.5 74.54 L443 74.76 L443.5 74.97 L444 75.19 L444.5 75.4 L445 75.62 L445.5 75.84 L446 76.05 L446.5 76.27 L447 76.48 L447.5 76.7 L448 76.91 L448.5 77.12 L449 77.34 L449.5 77.55 L450 77.76 L450.5 77.97 L451 78.19 L451.5 78.4 L452 78.61 L452.5 78.82 L453 79.03 L453.5 79.23 L454 79.44 L454.5 79.65 L455 79.85 L455.5 80.06 L456 80.26 L456.5 80.47 L457 80.67 L457.5 80.87 L458 81.07 L458.5 81.27 L459 81.47 L459.5 81.66 L460 81.86 L460.5 82.05 L461 82.25 L461.5 82.44 L462 82.63 L462.5 82.82 L463 83.01 L463.5 83.19 L464 83.38 L464.5 83.56 L465 83.75 L465.5 83.93 L466 84.11 L466.5 84.28 L467 84.46 L467.5 84.63 L468 84.81 L468.5 84.98 L469 85.15 L469.5 85.31 L470 85.48 L470.5 85.64 L471 85.8 L471.5 85.96 L472 86.12 L472.5 86.28 L473 86.43 L473.5 86.58 L474 86.73 L474.5 86.88 L475 87.03 L475.5 87.17 L476 87.32 L476.5 87.46 L477 87.6 L477.5 87.74 L478 87.88 L478.5 88.02 L479 88.16 L479.5 88.29 L480 88.43 L480.5 88.56 L481 88.69 L481.5 88.82 L482 88.96 L482.5 89.09 L483 89.22 L483.5 89.34 L484 89.47 L484.5 89.6 L485 89.73 L485.5 89.85 L486 89.98 L486.5 90.11 L487 90.23 L487.5 90.36 L488 90.48 L488.5 90.61 L489 90.73 L489.5 90.86 L490 90.99 L490.5 91.11 L491 91.24 L491.5 91.36 L492 91.49 L492.5 91.61 L493 91.74 L493.5 91.87 L494 92 L494.5 92.12 L495 92.25 L495.5 92.38 L496 92.51 L496.5 92.64 L497 92.78 L497.5 92.91 L498 93.04 L498.5 93.18 L499 93.31 L499.5 93.45 L500 93.59 L500.5 93.73 L501 93.87 L501.5 94.01 L502 94.15 L502.5 94.3 L503 94.44 L503.5 94.59 L504 94.74 L504.2 94.8" fill="none" stroke="#f5b0f5" stroke-width="1.35" stroke-linejoin="round"/>
<line x1="370.2" y1="41.5" x2="510.5" y2="41.5" stroke="#4a4a4a" stroke-width="0.75" stroke-dasharray="2.1 1.77"/>
<rect x="370.2" y="15.8" width="140.3" height="111.5" fill="none" stroke="#c2c2c2" stroke-width="1.1"/>
<line x1="368.5" y1="115.2" x2="370.2" y2="115.2" stroke="#4d4d4d" stroke-width="0.7"/>
<text x="367.7" y="117.55" text-anchor="end" class="tk">0.25</text>
<line x1="368.5" y1="90.8" x2="370.2" y2="90.8" stroke="#4d4d4d" stroke-width="0.7"/>
<text x="367.7" y="93.15" text-anchor="end" class="tk">0.50</text>
<line x1="368.5" y1="66.1" x2="370.2" y2="66.1" stroke="#4d4d4d" stroke-width="0.7"/>
<text x="367.7" y="68.45" text-anchor="end" class="tk">0.75</text>
<line x1="368.5" y1="41.5" x2="370.2" y2="41.5" stroke="#4d4d4d" stroke-width="0.7"/>
<text x="367.7" y="43.85" text-anchor="end" class="tk">1.00</text>
<line x1="368.5" y1="16.8" x2="370.2" y2="16.8" stroke="#4d4d4d" stroke-width="0.7"/>
<text x="367.7" y="19.15" text-anchor="end" class="tk">1.25</text>
<line x1="376.6" y1="127.3" x2="376.6" y2="129" stroke="#4d4d4d" stroke-width="0.7"/>
<text x="376.6" y="135.1" text-anchor="middle" class="tk">0</text>
<line x1="423" y1="127.3" x2="423" y2="129" stroke="#4d4d4d" stroke-width="0.7"/>
<text x="423" y="135.1" text-anchor="middle" class="tk">1</text>
<line x1="469.4" y1="127.3" x2="469.4" y2="129" stroke="#4d4d4d" stroke-width="0.7"/>
<text x="469.4" y="135.1" text-anchor="middle" class="tk">2</text>
<text x="440.35" y="144.3" text-anchor="middle" class="ti">PFA 22:6 (Docosahexaenoic) (g/day)</text>
<text transform="translate(351.6 71.55) rotate(-90)" text-anchor="middle" class="ti">OR (95% CI) for CVD</text>
<text x="426.2" y="26.7" class="pv"><tspan font-style="italic">P</tspan><tspan dx="-0.7"> for overall = 0.171</tspan></text>
<text x="426.2" y="35.6" class="pv"><tspan font-style="italic">P</tspan><tspan dx="-0.7"> for nonlinear = 0.663</tspan></text>
<text x="343.6" y="8.1" class="lt">C</text>
<path d="M547.2 21.2 L547.7 22.37 L548.2 23.54 L548.7 24.71 L549.2 25.88 L549.7 27.05 L550.2 28.22 L550.7 29.39 L551.2 30.55 L551.7 31.72 L552.2 32.88 L552.7 34.05 L553.2 35.21 L553.7 36.37 L554.2 37.54 L554.7 38.7 L555.2 39.87 L555.7 41.06 L556.2 42.24 L556.7 43.43 L557.2 44.62 L557.7 45.8 L558.2 46.98 L558.7 48.15 L559.2 49.3 L559.7 50.44 L560.2 51.55 L560.7 52.64 L561.2 53.71 L561.7 54.76 L562.2 55.8 L562.7 56.83 L563.2 57.84 L563.7 58.84 L564.2 59.83 L564.7 60.8 L565.2 61.76 L565.7 62.71 L566.2 63.64 L566.7 64.56 L567.2 65.46 L567.5 66 L568 65.99 L568.5 65.98 L569 65.96 L569.5 65.95 L570 65.94 L570.5 65.92 L571 65.9 L571.5 65.89 L572 65.87 L572.5 65.85 L573 65.83 L573.5 65.81 L574 65.78 L574.5 65.76 L575 65.74 L575.5 65.71 L576 65.68 L576.5 65.66 L577 65.63 L577.5 65.6 L578 65.57 L578.5 65.54 L579 65.51 L579.5 65.47 L580 65.44 L580.5 65.41 L581 65.37 L581.5 65.34 L582 65.3 L582.5 65.26 L583 65.22 L583.5 65.18 L584 65.14 L584.5 65.1 L585 65.06 L585.5 65.01 L586 64.97 L586.5 64.93 L587 64.88 L587.5 64.83 L588 64.79 L588.5 64.74 L589 64.69 L589.5 64.64 L590 64.59 L590.5 64.54 L591 64.48 L591.5 64.43 L592 64.38 L592.5 64.32 L593 64.27 L593.5 64.21 L594 64.16 L594.5 64.1 L595 64.04 L595.5 63.98 L596 63.92 L596.5 63.86 L597 63.8 L597.5 63.74 L598 63.67 L598.5 63.61 L599 63.55 L599.5 63.48 L600 63.42 L600.5 63.35 L601 63.28 L601.5 63.21 L602 63.15 L602.5 63.08 L603 63.01 L603.5 62.94 L604 62.87 L604.5 62.79 L605 62.72 L605.5 62.65 L606 62.57 L606.5 62.5 L607 62.43 L607.5 62.35 L608 62.27 L608.5 62.2 L609 62.12 L609.5 62.04 L610 61.96 L610.5 61.88 L611 61.8 L611.5 61.72 L612 61.64 L612.5 61.56 L613 61.48 L613.5 61.39 L614 61.31 L614.5 61.23 L615 61.14 L615.5 61.06 L616 60.97 L616.5 60.89 L617 60.8 L617.5 60.71 L618 60.62 L618.5 60.54 L619 60.45 L619.5 60.36 L620 60.27 L620.5 60.18 L621 60.09 L621.5 59.99 L622 59.9 L622.5 59.81 L623 59.72 L623.5 59.62 L624 59.53 L624.5 59.44 L625 59.34 L625.5 59.25 L626 59.15 L626.5 59.05 L627 58.96 L627.5 58.86 L628 58.76 L628.5 58.67 L629 58.57 L629.5 58.47 L630 58.37 L630.5 58.27 L631 58.17 L631.5 58.07 L632 57.97 L632.5 57.87 L633 57.77 L633.5 57.66 L634 57.56 L634.5 57.46 L635 57.36 L635.5 57.25 L636 57.15 L636.5 57.05 L637 56.94 L637.5 56.84 L638 56.73 L638.5 56.63 L639 56.52 L639.5 56.41 L640 56.31 L640.5 56.2 L641 56.09 L641.5 55.99 L642 55.88 L642.5 55.77 L643 55.66 L643.5 55.56 L644 55.45 L644.5 55.34 L645 55.23 L645.5 55.12 L646 55.01 L646.5 54.9 L647 54.79 L647.5 54.68 L648 54.57 L648.5 54.46 L649 54.35 L649.5 54.23 L650 54.12 L650.5 54.01 L651 53.9 L651.5 53.79 L652 53.67 L652.5 53.56 L653 53.45 L653.5 53.34 L654 53.22 L654.5 53.11 L655 53 L655.5 52.88 L656 52.77 L656.5 52.65 L657 52.54 L657.5 52.43 L658 52.31 L658.5 52.2 L659 52.08 L659.5 51.97 L660 51.85 L660.5 51.74 L661 51.62 L661.5 51.51 L662 51.39 L662.5 51.27 L663 51.16 L663.5 51.04 L664 50.93 L664.5 50.81 L665 50.7 L665.5 50.58 L666 50.46 L666.5 50.35 L667 50.23 L667.5 50.12 L668 50 L668.5 49.88 L669 49.77 L669.5 49.65 L670 49.53 L670.5 49.42 L671 49.3 L671.5 49.18 L672 49.07 L672.5 48.95 L673 48.83 L673.5 48.72 L674 48.6 L674.5 48.49 L675 48.37 L675.3 48.3 L675.2 122.3 L675 122.27 L674.5 122.2 L674 122.13 L673.5 122.05 L673 121.97 L672.5 121.9 L672 121.82 L671.5 121.73 L671 121.65 L670.5 121.56 L670 121.48 L669.5 121.39 L669 121.3 L668.5 121.21 L668 121.11 L667.5 121.02 L667 120.92 L666.5 120.82 L666 120.72 L665.5 120.62 L665 120.51 L664.5 120.41 L664 120.3 L663.5 120.19 L663 120.08 L662.5 119.97 L662 119.85 L661.5 119.74 L661 119.62 L660.5 119.5 L660 119.38 L659.5 119.25 L659 119.13 L658.5 119 L658 118.87 L657.5 118.74 L657 118.61 L656.5 118.48 L656 118.34 L655.5 118.21 L655 118.07 L654.5 117.93 L654 117.78 L653.5 117.64 L653 117.49 L652.5 117.35 L652 117.2 L651.5 117.05 L651 116.89 L650.5 116.74 L650 116.58 L649.5 116.43 L649 116.27 L648.5 116.1 L648 115.94 L647.5 115.78 L647 115.61 L646.5 115.44 L646 115.27 L645.5 115.1 L645 114.92 L644.5 114.75 L644 114.57 L643.5 114.39 L643 114.21 L642.5 114.03 L642 113.84 L641.5 113.66 L641 113.47 L640.5 113.28 L640 113.09 L639.5 112.9 L639 112.7 L638.5 112.5 L638 112.3 L637.5 112.1 L637 111.9 L636.5 111.7 L636 111.49 L635.5 111.29 L635 111.08 L634.5 110.86 L634 110.65 L633.5 110.44 L633 110.22 L632.5 110 L632 109.78 L631.5 109.56 L631 109.34 L630.5 109.11 L630 108.88 L629.5 108.66 L629 108.42 L628.5 108.19 L628 107.96 L627.5 107.72 L627 107.48 L626.5 107.24 L626 107 L625.5 106.76 L625 106.51 L624.5 106.27 L624 106.02 L623.5 105.77 L623 105.52 L622.5 105.26 L622 105 L621.5 104.75 L621 104.49 L620.5 104.23 L620 103.96 L619.5 103.7 L619 103.43 L618.5 103.16 L618 102.89 L617.5 102.62 L617 102.34 L616.5 102.07 L616 101.79 L615.5 101.51 L615 101.23 L614.5 100.95 L614 100.66 L613.5 100.37 L613 100.09 L612.5 99.79 L612 99.5 L611.5 99.21 L611 98.91 L610.5 98.61 L610 98.31 L609.5 98.01 L609 97.71 L608.5 97.4 L608 97.1 L607.5 96.79 L607 96.48 L606.5 96.16 L606 95.85 L605.5 95.53 L605 95.21 L604.5 94.89 L604 94.57 L603.5 94.25 L603 93.92 L602.5 93.59 L602 93.27 L601.5 92.93 L601 92.6 L600.5 92.27 L600 91.93 L599.5 91.59 L599 91.25 L598.5 90.91 L598 90.56 L597.5 90.22 L597 89.87 L596.5 89.52 L596 89.17 L595.5 88.81 L595 88.46 L594.5 88.1 L594 87.74 L593.5 87.38 L593 87.02 L592.5 86.65 L592 86.29 L591.5 85.92 L591 85.55 L590.5 85.18 L590 84.8 L589.5 84.43 L589 84.05 L588.5 83.67 L588 83.29 L587.5 82.9 L587 82.52 L586.5 82.13 L586 81.74 L585.5 81.35 L585 80.96 L584.5 80.56 L584 80.16 L583.5 79.77 L583 79.36 L582.5 78.96 L582 78.56 L581.5 78.15 L581 77.74 L580.5 77.33 L580 76.92 L579.5 76.51 L579 76.09 L578.5 75.67 L578 75.25 L577.5 74.83 L577 74.41 L576.5 73.98 L576 73.56 L575.5 73.13 L575 72.7 L574.5 72.26 L574 71.83 L573.5 71.39 L573 70.95 L572.5 70.51 L572 70.07 L571.5 69.62 L571 69.18 L570.5 68.73 L570 68.28 L569.5 67.83 L569 67.37 L568.5 66.92 L568 66.46 L567.5 66 L567.2 66.08 L566.7 66.21 L566.2 66.35 L565.7 66.48 L565.2 66.62 L564.7 66.76 L564.2 66.9 L563.7 67.04 L563.2 67.18 L562.7 67.32 L562.2 67.46 L561.7 67.6 L561.2 67.75 L560.7 67.9 L560.2 68.04 L559.7 68.19 L559.2 68.34 L558.7 68.49 L558.2 68.64 L557.7 68.79 L557.2 68.94 L556.7 69.09 L556.2 69.25 L555.7 69.4 L555.2 69.56 L554.7 69.71 L554.2 69.87 L553.7 70.03 L553.2 70.19 L552.7 70.35 L552.2 70.52 L551.7 70.68 L551.2 70.85 L550.7 71.01 L550.2 71.18 L549.7 71.35 L549.2 71.51 L548.7 71.68 L548.2 71.86 L547.7 72.03 L547.2 72.2 Z" fill="#fde7fd"/>
<path d="M547.2 50 L547.7 50.3 L548.2 50.61 L548.7 50.93 L549.2 51.24 L549.7 51.57 L550.2 51.89 L550.7 52.22 L551.2 52.56 L551.7 52.9 L552.2 53.24 L552.7 53.59 L553.2 53.94 L553.7 54.3 L554.2 54.66 L554.7 55.02 L555.2 55.39 L555.7 55.76 L556.2 56.14 L556.7 56.52 L557.2 56.91 L557.7 57.3 L558.2 57.7 L558.7 58.1 L559.2 58.51 L559.7 58.92 L560.2 59.34 L560.7 59.76 L561.2 60.19 L561.7 60.62 L562.2 61.05 L562.7 61.49 L563.2 61.94 L563.7 62.39 L564.2 62.85 L564.7 63.31 L565.2 63.78 L565.7 64.26 L566.2 64.73 L566.7 65.22 L567.2 65.71 L567.5 66 L568 66.21 L568.5 66.43 L569 66.64 L569.5 66.86 L570 67.07 L570.5 67.28 L571 67.49 L571.5 67.7 L572 67.91 L572.5 68.12 L573 68.33 L573.5 68.54 L574 68.75 L574.5 68.96 L575 69.16 L575.5 69.37 L576 69.57 L576.5 69.78 L577 69.98 L577.5 70.18 L578 70.39 L578.5 70.59 L579 70.79 L579.5 70.99 L580 71.19 L580.5 71.39 L581 71.59 L581.5 71.78 L582 71.98 L582.5 72.18 L583 72.37 L583.5 72.57 L584 72.76 L584.5 72.96 L585 73.15 L585.5 73.34 L586 73.54 L586.5 73.73 L587 73.92 L587.5 74.11 L588 74.3 L588.5 74.49 L589 74.68 L589.5 74.86 L590 75.05 L590.5 75.24 L591 75.42 L591.5 75.61 L592 75.79 L592.5 75.98 L593 76.16 L593.5 76.34 L594 76.53 L594.5 76.71 L595 76.89 L595.5 77.07 L596 77.25 L596.5 77.43 L597 77.61 L597.5 77.79 L598 77.96 L598.5 78.14 L599 78.32 L599.5 78.49 L600 78.67 L600.5 78.84 L601 79.02 L601.5 79.19 L602 79.37 L602.5 79.54 L603 79.71 L603.5 79.88 L604 80.05 L604.5 80.22 L605 80.39 L605.5 80.56 L606 80.73 L606.5 80.9 L607 81.06 L607.5 81.23 L608 81.4 L608.5 81.56 L609 81.73 L609.5 81.89 L610 82.06 L610.5 82.22 L611 82.38 L611.5 82.55 L612 82.71 L612.5 82.87 L613 83.03 L613.5 83.19 L614 83.35 L614.5 83.51 L615 83.67 L615.5 83.83 L616 83.98 L616.5 84.14 L617 84.3 L617.5 84.45 L618 84.61 L618.5 84.76 L619 84.92 L619.5 85.07 L620 85.22 L620.5 85.38 L621 85.53 L621.5 85.68 L622 85.83 L622.5 85.98 L623 86.13 L623.5 86.28 L624 86.43 L624.5 86.58 L625 86.73 L625.5 86.88 L626 87.02 L626.5 87.17 L627 87.32 L627.5 87.46 L628 87.61 L628.5 87.75 L629 87.9 L629.5 88.04 L630 88.18 L630.5 88.33 L631 88.47 L631.5 88.61 L632 88.75 L632.5 88.89 L633 89.03 L633.5 89.17 L634 89.31 L634.5 89.45 L635 89.59 L635.5 89.73 L636 89.87 L636.5 90 L637 90.14 L637.5 90.28 L638 90.41 L638.5 90.55 L639 90.68 L639.5 90.81 L640 90.95 L640.5 91.08 L641 91.21 L641.5 91.35 L642 91.48 L642.5 91.61 L643 91.74 L643.5 91.87 L644 92 L644.5 92.13 L645 92.26 L645.5 92.39 L646 92.52 L646.5 92.65 L647 92.77 L647.5 92.9 L648 93.03 L648.5 93.15 L649 93.28 L649.5 93.4 L650 93.53 L650.5 93.65 L651 93.78 L651.5 93.9 L652 94.02 L652.5 94.15 L653 94.27 L653.5 94.39 L654 94.51 L654.5 94.63 L655 94.75 L655.5 94.87 L656 94.99 L656.5 95.11 L657 95.23 L657.5 95.35 L658 95.47 L658.5 95.59 L659 95.71 L659.5 95.82 L660 95.94 L660.5 96.05 L661 96.17 L661.5 96.29 L662 96.4 L662.5 96.52 L663 96.63 L663.5 96.74 L664 96.86 L664.5 96.97 L665 97.08 L665.5 97.2 L666 97.31 L666.5 97.42 L667 97.53 L667.5 97.64 L668 97.75 L668.5 97.86 L669 97.97 L669.5 98.08 L670 98.19 L670.5 98.3 L671 98.41 L671.5 98.51 L672 98.62 L672.5 98.73 L673 98.83 L673.5 98.94 L674 99.05 L674.5 99.15 L675 99.26 L675.2 99.3" fill="none" stroke="#f5b0f5" stroke-width="1.35" stroke-linejoin="round"/>
<line x1="541.1" y1="66" x2="681.5" y2="66" stroke="#4a4a4a" stroke-width="0.75" stroke-dasharray="2.1 1.77"/>
<line x1="567.5" y1="127.3" x2="567.5" y2="15.8" stroke="#cc5864" stroke-width="0.72" stroke-dasharray="1.75 2.0"/>
<text x="570.2" y="60.1" font-family="Liberation Sans" font-size="5.3" fill="#b01c26" stroke="#b01c26" stroke-width="0.15">Cut−off value = 264.6 mg/d</text>
<rect x="541.1" y="15.8" width="140.4" height="111.5" fill="none" stroke="#c2c2c2" stroke-width="1.1"/>
<line x1="539.4" y1="112.6" x2="541.1" y2="112.6" stroke="#4d4d4d" stroke-width="0.7"/>
<text x="538.6" y="114.95" text-anchor="end" class="tk">0.4</text>
<line x1="539.4" y1="81.5" x2="541.1" y2="81.5" stroke="#4d4d4d" stroke-width="0.7"/>
<text x="538.6" y="83.85" text-anchor="end" class="tk">0.8</text>
<line x1="539.4" y1="50.4" x2="541.1" y2="50.4" stroke="#4d4d4d" stroke-width="0.7"/>
<text x="538.6" y="52.75" text-anchor="end" class="tk">1.2</text>
<line x1="539.4" y1="19.3" x2="541.1" y2="19.3" stroke="#4d4d4d" stroke-width="0.7"/>
<text x="538.6" y="21.65" text-anchor="end" class="tk">1.6</text>
<line x1="547.5" y1="127.3" x2="547.5" y2="129" stroke="#4d4d4d" stroke-width="0.7"/>
<text x="547.5" y="135.1" text-anchor="middle" class="tk">0</text>
<line x1="586.8" y1="127.3" x2="586.8" y2="129" stroke="#4d4d4d" stroke-width="0.7"/>
<text x="586.8" y="135.1" text-anchor="middle" class="tk">500</text>
<line x1="626" y1="127.3" x2="626" y2="129" stroke="#4d4d4d" stroke-width="0.7"/>
<text x="626" y="135.1" text-anchor="middle" class="tk">1,000</text>
<line x1="665.2" y1="127.3" x2="665.2" y2="129" stroke="#4d4d4d" stroke-width="0.7"/>
<text x="665.2" y="135.1" text-anchor="middle" class="tk">1,500</text>
<text x="611.3" y="144.3" text-anchor="middle" class="ti">Total choline (mg/day)</text>
<text transform="translate(525.8 71.55) rotate(-90)" text-anchor="middle" class="ti">OR (95% CI) for CVD</text>
<text x="596.2" y="26.7" class="pv"><tspan font-style="italic">P</tspan><tspan dx="-0.7"> for overall = 0.056</tspan></text>
<text x="596.2" y="35.6" class="pv"><tspan font-style="italic">P</tspan><tspan dx="-0.7"> for nonlinear = 0.355</tspan></text>
<text x="518.4" y="8" class="lt">D</text>
<path d="M31 199.7 L31.5 200.68 L32 201.67 L32.5 202.66 L33 203.66 L33.5 204.66 L34 205.66 L34.5 206.67 L35 207.68 L35.5 208.69 L36 209.7 L36.5 210.72 L37 211.75 L37.5 212.77 L38 213.8 L38.5 214.83 L39 215.87 L39.5 216.91 L40 217.95 L40.5 219 L41 220.05 L41.5 221.1 L42 222.16 L42.5 223.22 L43 224.29 L43.5 225.35 L44 226.43 L44.5 227.5 L45 227.4 L45.5 227.29 L46 227.18 L46.5 227.07 L47 226.96 L47.5 226.85 L48 226.73 L48.5 226.61 L49 226.49 L49.5 226.37 L50 226.25 L50.5 226.12 L51 225.99 L51.5 225.86 L52 225.73 L52.5 225.6 L53 225.46 L53.5 225.32 L54 225.18 L54.5 225.04 L55 224.9 L55.5 224.75 L56 224.6 L56.5 224.46 L57 224.3 L57.5 224.15 L58 224 L58.5 223.84 L59 223.68 L59.5 223.52 L60 223.36 L60.5 223.2 L61 223.03 L61.5 222.86 L62 222.7 L62.5 222.53 L63 222.35 L63.5 222.18 L64 222 L64.5 221.83 L65 221.65 L65.5 221.47 L66 221.28 L66.5 221.1 L67 220.92 L67.5 220.73 L68 220.54 L68.5 220.35 L69 220.16 L69.5 219.97 L70 219.77 L70.5 219.57 L71 219.38 L71.5 219.18 L72 218.98 L72.5 218.77 L73 218.57 L73.5 218.37 L74 218.16 L74.5 217.95 L75 217.74 L75.5 217.53 L76 217.32 L76.5 217.11 L77 216.89 L77.5 216.68 L78 216.46 L78.5 216.24 L79 216.02 L79.5 215.8 L80 215.58 L80.5 215.35 L81 215.13 L81.5 214.9 L82 214.67 L82.5 214.44 L83 214.21 L83.5 213.98 L84 213.75 L84.5 213.52 L85 213.28 L85.5 213.04 L86 212.81 L86.5 212.57 L87 212.33 L87.5 212.09 L88 211.85 L88.5 211.6 L89 211.36 L89.5 211.12 L90 210.87 L90.5 210.62 L91 210.38 L91.5 210.13 L92 209.88 L92.5 209.63 L93 209.37 L93.5 209.12 L94 208.87 L94.5 208.61 L95 208.36 L95.5 208.1 L96 207.84 L96.5 207.59 L97 207.33 L97.5 207.07 L98 206.81 L98.5 206.54 L99 206.28 L99.5 206.02 L100 205.75 L100.5 205.49 L101 205.22 L101.5 204.96 L102 204.69 L102.5 204.42 L103 204.15 L103.5 203.88 L104 203.61 L104.5 203.34 L105 203.07 L105.5 202.8 L106 202.53 L106.5 202.25 L107 201.98 L107.5 201.71 L108 201.43 L108.5 201.15 L109 200.88 L109.5 200.6 L110 200.32 L110.5 200.05 L111 199.77 L111.5 199.49 L112 199.21 L112.5 198.93 L113 198.65 L113.5 198.37 L114 198.09 L114.5 197.8 L115 197.52 L115.5 197.24 L116 196.96 L116.5 196.67 L117 196.39 L117.5 196.1 L118 195.82 L118.5 195.53 L119 195.25 L119.5 194.96 L120 194.68 L120.5 194.39 L121 194.1 L121.5 193.82 L122 193.53 L122.5 193.24 L123 192.95 L123.5 192.67 L124 192.38 L124.5 192.09 L125 191.8 L125.5 191.51 L126 191.22 L126.5 190.93 L127 190.65 L127.5 190.36 L128 190.07 L128.5 189.78 L129 189.49 L129.5 189.2 L130 188.91 L130.5 188.62 L131 188.33 L131.5 188.04 L132 187.75 L132.5 187.46 L133 187.17 L133.5 186.88 L134 186.59 L134.5 186.3 L135 186.01 L135.5 185.72 L136 185.43 L136.5 185.14 L137 184.85 L137.5 184.56 L138 184.27 L138.5 183.98 L139 183.69 L139.5 183.41 L140 183.12 L140.5 182.83 L141 182.54 L141.5 182.25 L142 181.97 L142.5 181.68 L143 181.39 L143.5 181.1 L144 180.82 L144.5 180.53 L145 180.24 L145.5 179.96 L146 179.67 L146.5 179.39 L147 179.1 L147.5 178.82 L148 178.53 L148.5 178.25 L149 177.97 L149.5 177.68 L150 177.4 L150.5 177.12 L151 176.84 L151.5 176.56 L152 176.28 L152.5 175.99 L153 175.72 L153.5 175.44 L154 175.16 L154.5 174.88 L155 174.6 L155.5 174.32 L156 174.05 L156.5 173.77 L157 173.5 L157.5 173.22 L158 172.95 L158.5 172.67 L159 172.4 L159 273.3 L158.5 273.13 L158 272.97 L157.5 272.8 L157 272.64 L156.5 272.48 L156 272.31 L155.5 272.15 L155 271.98 L154.5 271.82 L154 271.65 L153.5 271.49 L153 271.32 L152.5 271.16 L152 270.99 L151.5 270.83 L151 270.66 L150.5 270.49 L150 270.33 L149.5 270.16 L149 270 L148.5 269.83 L148 269.67 L147.5 269.5 L147 269.33 L146.5 269.17 L146 269 L145.5 268.84 L145 268.67 L144.5 268.5 L144 268.34 L143.5 268.17 L143 268 L142.5 267.84 L142 267.67 L141.5 267.5 L141 267.33 L140.5 267.17 L140 267 L139.5 266.83 L139 266.66 L138.5 266.49 L138 266.33 L137.5 266.16 L137 265.99 L136.5 265.82 L136 265.65 L135.5 265.48 L135 265.31 L134.5 265.14 L134 264.97 L133.5 264.8 L133 264.63 L132.5 264.46 L132 264.29 L131.5 264.12 L131 263.95 L130.5 263.78 L130 263.6 L129.5 263.43 L129 263.26 L128.5 263.09 L128 262.91 L127.5 262.74 L127 262.57 L126.5 262.4 L126 262.22 L125.5 262.05 L125 261.87 L124.5 261.7 L124 261.52 L123.5 261.35 L123 261.17 L122.5 261 L122 260.82 L121.5 260.65 L121 260.47 L120.5 260.29 L120 260.11 L119.5 259.94 L119 259.76 L118.5 259.58 L118 259.4 L117.5 259.22 L117 259.04 L116.5 258.87 L116 258.69 L115.5 258.51 L115 258.32 L114.5 258.14 L114 257.96 L113.5 257.78 L113 257.6 L112.5 257.42 L112 257.23 L111.5 257.05 L111 256.87 L110.5 256.68 L110 256.5 L109.5 256.31 L109 256.13 L108.5 255.94 L108 255.76 L107.5 255.57 L107 255.39 L106.5 255.2 L106 255.01 L105.5 254.82 L105 254.63 L104.5 254.45 L104 254.26 L103.5 254.07 L103 253.88 L102.5 253.69 L102 253.5 L101.5 253.3 L101 253.11 L100.5 252.92 L100 252.73 L99.5 252.53 L99 252.34 L98.5 252.15 L98 251.95 L97.5 251.76 L97 251.56 L96.5 251.36 L96 251.17 L95.5 250.97 L95 250.77 L94.5 250.57 L94 250.37 L93.5 250.18 L93 249.98 L92.5 249.78 L92 249.57 L91.5 249.37 L91 249.17 L90.5 248.97 L90 248.77 L89.5 248.56 L89 248.36 L88.5 248.15 L88 247.95 L87.5 247.74 L87 247.54 L86.5 247.33 L86 247.12 L85.5 246.91 L85 246.7 L84.5 246.5 L84 246.29 L83.5 246.08 L83 245.86 L82.5 245.65 L82 245.44 L81.5 245.23 L81 245.01 L80.5 244.8 L80 244.59 L79.5 244.37 L79 244.15 L78.5 243.94 L78 243.72 L77.5 243.5 L77 243.28 L76.5 243.06 L76 242.84 L75.5 242.62 L75 242.4 L74.5 242.18 L74 241.96 L73.5 241.73 L73 241.51 L72.5 241.29 L72 241.06 L71.5 240.84 L71 240.61 L70.5 240.38 L70 240.15 L69.5 239.92 L69 239.69 L68.5 239.46 L68 239.23 L67.5 239 L67 238.77 L66.5 238.54 L66 238.3 L65.5 238.07 L65 237.83 L64.5 237.6 L64 237.36 L63.5 237.12 L63 236.88 L62.5 236.65 L62 236.41 L61.5 236.17 L61 235.92 L60.5 235.68 L60 235.44 L59.5 235.19 L59 234.95 L58.5 234.71 L58 234.46 L57.5 234.21 L57 233.96 L56.5 233.72 L56 233.47 L55.5 233.22 L55 232.97 L54.5 232.71 L54 232.46 L53.5 232.21 L53 231.95 L52.5 231.7 L52 231.44 L51.5 231.19 L51 230.93 L50.5 230.67 L50 230.41 L49.5 230.15 L49 229.89 L48.5 229.63 L48 229.36 L47.5 229.1 L47 228.84 L46.5 228.57 L46 228.3 L45.5 228.04 L45 227.77 L44.5 227.5 L44 227.81 L43.5 228.12 L43 228.43 L42.5 228.74 L42 229.06 L41.5 229.37 L41 229.69 L40.5 230 L40 230.32 L39.5 230.64 L39 230.96 L38.5 231.28 L38 231.6 L37.5 231.92 L37 232.25 L36.5 232.57 L36 232.89 L35.5 233.22 L35 233.55 L34.5 233.88 L34 234.21 L33.5 234.54 L33 234.87 L32.5 235.2 L32 235.53 L31.5 235.87 L31 236.2 Z" fill="#fde7fd"/>
<path d="M31 219.3 L31.5 219.61 L32 219.91 L32.5 220.22 L33 220.52 L33.5 220.83 L34 221.13 L34.5 221.44 L35 221.74 L35.5 222.04 L36 222.35 L36.5 222.65 L37 222.96 L37.5 223.26 L38 223.56 L38.5 223.87 L39 224.17 L39.5 224.47 L40 224.78 L40.5 225.08 L41 225.38 L41.5 225.69 L42 225.99 L42.5 226.29 L43 226.59 L43.5 226.9 L44 227.2 L44.5 227.5 L45 227.57 L45.5 227.63 L46 227.69 L46.5 227.76 L47 227.82 L47.5 227.89 L48 227.95 L48.5 228.01 L49 228.08 L49.5 228.14 L50 228.2 L50.5 228.26 L51 228.33 L51.5 228.39 L52 228.45 L52.5 228.51 L53 228.57 L53.5 228.63 L54 228.69 L54.5 228.75 L55 228.82 L55.5 228.88 L56 228.94 L56.5 229 L57 229.06 L57.5 229.12 L58 229.17 L58.5 229.23 L59 229.29 L59.5 229.35 L60 229.41 L60.5 229.47 L61 229.53 L61.5 229.59 L62 229.64 L62.5 229.7 L63 229.76 L63.5 229.82 L64 229.87 L64.5 229.93 L65 229.99 L65.5 230.04 L66 230.1 L66.5 230.16 L67 230.21 L67.5 230.27 L68 230.32 L68.5 230.38 L69 230.44 L69.5 230.49 L70 230.55 L70.5 230.6 L71 230.66 L71.5 230.71 L72 230.76 L72.5 230.82 L73 230.87 L73.5 230.93 L74 230.98 L74.5 231.03 L75 231.09 L75.5 231.14 L76 231.19 L76.5 231.25 L77 231.3 L77.5 231.35 L78 231.41 L78.5 231.46 L79 231.51 L79.5 231.56 L80 231.61 L80.5 231.67 L81 231.72 L81.5 231.77 L82 231.82 L82.5 231.87 L83 231.92 L83.5 231.97 L84 232.02 L84.5 232.08 L85 232.13 L85.5 232.18 L86 232.23 L86.5 232.28 L87 232.33 L87.5 232.38 L88 232.43 L88.5 232.48 L89 232.53 L89.5 232.57 L90 232.62 L90.5 232.67 L91 232.72 L91.5 232.77 L92 232.82 L92.5 232.87 L93 232.92 L93.5 232.96 L94 233.01 L94.5 233.06 L95 233.11 L95.5 233.16 L96 233.2 L96.5 233.25 L97 233.3 L97.5 233.35 L98 233.39 L98.5 233.44 L99 233.49 L99.5 233.54 L100 233.58 L100.5 233.63 L101 233.68 L101.5 233.72 L102 233.77 L102.5 233.81 L103 233.86 L103.5 233.91 L104 233.95 L104.5 234 L105 234.04 L105.5 234.09 L106 234.14 L106.5 234.18 L107 234.23 L107.5 234.27 L108 234.32 L108.5 234.36 L109 234.41 L109.5 234.45 L110 234.5 L110.5 234.54 L111 234.59 L111.5 234.63 L112 234.67 L112.5 234.72 L113 234.76 L113.5 234.81 L114 234.85 L114.5 234.9 L115 234.94 L115.5 234.98 L116 235.03 L116.5 235.07 L117 235.11 L117.5 235.16 L118 235.2 L118.5 235.24 L119 235.29 L119.5 235.33 L120 235.37 L120.5 235.42 L121 235.46 L121.5 235.5 L122 235.55 L122.5 235.59 L123 235.63 L123.5 235.67 L124 235.72 L124.5 235.76 L125 235.8 L125.5 235.84 L126 235.89 L126.5 235.93 L127 235.97 L127.5 236.01 L128 236.06 L128.5 236.1 L129 236.14 L129.5 236.18 L130 236.22 L130.5 236.27 L131 236.31 L131.5 236.35 L132 236.39 L132.5 236.43 L133 236.47 L133.5 236.52 L134 236.56 L134.5 236.6 L135 236.64 L135.5 236.68 L136 236.72 L136.5 236.77 L137 236.81 L137.5 236.85 L138 236.89 L138.5 236.93 L139 236.97 L139.5 237.01 L140 237.05 L140.5 237.09 L141 237.14 L141.5 237.18 L142 237.22 L142.5 237.26 L143 237.3 L143.5 237.34 L144 237.38 L144.5 237.42 L145 237.46 L145.5 237.5 L146 237.54 L146.5 237.59 L147 237.63 L147.5 237.67 L148 237.71 L148.5 237.75 L149 237.79 L149.5 237.83 L150 237.87 L150.5 237.91 L151 237.95 L151.5 237.99 L152 238.03 L152.5 238.07 L153 238.11 L153.5 238.15 L154 238.19 L154.5 238.24 L155 238.28 L155.5 238.32 L156 238.36 L156.5 238.4 L157 238.44 L157.5 238.48 L158 238.52 L158.5 238.56 L159 238.6" fill="none" stroke="#f5b0f5" stroke-width="1.35" stroke-linejoin="round"/>
<line x1="24.7" y1="227.5" x2="165.5" y2="227.5" stroke="#4a4a4a" stroke-width="0.75" stroke-dasharray="2.1 1.77"/>
<line x1="44.5" y1="279.2" x2="44.5" y2="167.3" stroke="#c64a58" stroke-width="0.72" stroke-dasharray="1.75 2.0"/>
<text x="46.8" y="221" font-family="Liberation Sans" font-size="5.3" fill="#b01c26" stroke="#b01c26" stroke-width="0.15">Cut−off value = 196 mg/d</text>
<rect x="24.7" y="167.3" width="140.8" height="111.9" fill="none" stroke="#c2c2c2" stroke-width="1.1"/>
<line x1="23" y1="243.9" x2="24.7" y2="243.9" stroke="#4d4d4d" stroke-width="0.7"/>
<text x="22.2" y="246.25" text-anchor="end" class="tk">0.8</text>
<line x1="23" y1="210.2" x2="24.7" y2="210.2" stroke="#4d4d4d" stroke-width="0.7"/>
<text x="22.2" y="212.55" text-anchor="end" class="tk">1.2</text>
<line x1="23" y1="175.4" x2="24.7" y2="175.4" stroke="#4d4d4d" stroke-width="0.7"/>
<text x="22.2" y="177.75" text-anchor="end" class="tk">1.6</text>
<line x1="30.9" y1="279.2" x2="30.9" y2="280.9" stroke="#4d4d4d" stroke-width="0.7"/>
<text x="30.9" y="286.6" text-anchor="middle" class="tk">0</text>
<line x1="66.1" y1="279.2" x2="66.1" y2="280.9" stroke="#4d4d4d" stroke-width="0.7"/>
<text x="66.1" y="286.6" text-anchor="middle" class="tk">500</text>
<line x1="101.3" y1="279.2" x2="101.3" y2="280.9" stroke="#4d4d4d" stroke-width="0.7"/>
<text x="101.3" y="286.6" text-anchor="middle" class="tk">1,000</text>
<line x1="136.5" y1="279.2" x2="136.5" y2="280.9" stroke="#4d4d4d" stroke-width="0.7"/>
<text x="136.5" y="286.6" text-anchor="middle" class="tk">1,500</text>
<text x="95.1" y="295.4" text-anchor="middle" class="ti">Cholesterol (mg/day)</text>
<text transform="translate(9.8 223.25) rotate(-90)" text-anchor="middle" class="ti">OR (95% CI) for CVD</text>
<text x="81" y="178.5" class="pv"><tspan font-style="italic">P</tspan><tspan dx="-0.7"> for overall = 0.491</tspan></text>
<text x="81" y="187.3" class="pv"><tspan font-style="italic">P</tspan><tspan dx="-0.7"> for nonlinear = 0.545</tspan></text>
<text x="1.7" y="163.3" class="lt">E</text>
<path d="M201.9 172.8 L202.4 174.64 L202.9 176.46 L203.4 178.24 L203.9 179.98 L204.4 181.7 L204.9 183.38 L205.4 185.04 L205.9 186.66 L206.4 188.25 L206.9 189.82 L207.4 191.35 L207.9 192.86 L208.4 194.34 L208.9 195.8 L209.4 197.23 L209.9 198.63 L210.4 200.01 L210.9 201.36 L211.4 202.69 L211.9 203.99 L212.4 205.27 L212.9 206.53 L213.4 207.76 L213.9 208.98 L214.4 210.17 L214.9 211.34 L215.4 212.5 L215.9 213.63 L216.4 214.74 L216.9 215.84 L217.4 216.92 L217.9 217.98 L218.4 219.02 L218.9 220.05 L219.4 221.06 L219.9 222.05 L220.4 223.03 L220.9 224 L221.4 224.95 L221.9 225.89 L222.4 226.82 L222.5 227 L223 227.07 L223.5 227.14 L224 227.2 L224.5 227.27 L225 227.33 L225.5 227.4 L226 227.46 L226.5 227.52 L227 227.59 L227.5 227.65 L228 227.71 L228.5 227.76 L229 227.82 L229.5 227.88 L230 227.94 L230.5 227.99 L231 228.04 L231.5 228.1 L232 228.15 L232.5 228.2 L233 228.25 L233.5 228.3 L234 228.35 L234.5 228.4 L235 228.45 L235.5 228.5 L236 228.55 L236.5 228.59 L237 228.64 L237.5 228.68 L238 228.72 L238.5 228.77 L239 228.81 L239.5 228.85 L240 228.89 L240.5 228.93 L241 228.97 L241.5 229.01 L242 229.05 L242.5 229.08 L243 229.12 L243.5 229.16 L244 229.19 L244.5 229.23 L245 229.26 L245.5 229.29 L246 229.33 L246.5 229.36 L247 229.39 L247.5 229.42 L248 229.45 L248.5 229.48 L249 229.51 L249.5 229.54 L250 229.57 L250.5 229.59 L251 229.62 L251.5 229.65 L252 229.67 L252.5 229.7 L253 229.72 L253.5 229.75 L254 229.77 L254.5 229.8 L255 229.82 L255.5 229.84 L256 229.86 L256.5 229.88 L257 229.9 L257.5 229.92 L258 229.94 L258.5 229.96 L259 229.98 L259.5 230 L260 230.02 L260.5 230.04 L261 230.05 L261.5 230.07 L262 230.09 L262.5 230.1 L263 230.12 L263.5 230.14 L264 230.15 L264.5 230.17 L265 230.18 L265.5 230.19 L266 230.21 L266.5 230.22 L267 230.23 L267.5 230.25 L268 230.26 L268.5 230.27 L269 230.28 L269.5 230.29 L270 230.3 L270.5 230.31 L271 230.33 L271.5 230.34 L272 230.35 L272.5 230.36 L273 230.36 L273.5 230.37 L274 230.38 L274.5 230.39 L275 230.4 L275.5 230.41 L276 230.42 L276.5 230.43 L277 230.43 L277.5 230.44 L278 230.45 L278.5 230.46 L279 230.46 L279.5 230.47 L280 230.48 L280.5 230.48 L281 230.49 L281.5 230.5 L282 230.5 L282.5 230.51 L283 230.51 L283.5 230.52 L284 230.53 L284.5 230.53 L285 230.54 L285.5 230.54 L286 230.55 L286.5 230.55 L287 230.56 L287.5 230.56 L288 230.57 L288.5 230.58 L289 230.58 L289.5 230.59 L290 230.59 L290.5 230.6 L291 230.6 L291.5 230.61 L292 230.61 L292.5 230.62 L293 230.62 L293.5 230.63 L294 230.63 L294.5 230.64 L295 230.64 L295.5 230.65 L296 230.66 L296.5 230.66 L297 230.67 L297.5 230.67 L298 230.68 L298.5 230.69 L299 230.69 L299.5 230.7 L300 230.71 L300.5 230.71 L301 230.72 L301.5 230.73 L302 230.73 L302.5 230.74 L303 230.75 L303.5 230.76 L304 230.76 L304.5 230.77 L305 230.78 L305.5 230.79 L306 230.8 L306.5 230.81 L307 230.81 L307.5 230.82 L308 230.83 L308.5 230.84 L309 230.85 L309.5 230.86 L310 230.87 L310.5 230.89 L311 230.9 L311.5 230.91 L312 230.92 L312.5 230.93 L313 230.94 L313.5 230.96 L314 230.97 L314.5 230.98 L315 231 L315.5 231.01 L316 231.03 L316.5 231.04 L317 231.06 L317.5 231.07 L318 231.09 L318.5 231.1 L319 231.12 L319.5 231.14 L320 231.15 L320.5 231.17 L321 231.19 L321.5 231.21 L322 231.23 L322.5 231.25 L323 231.27 L323.5 231.29 L324 231.31 L324.5 231.33 L325 231.35 L325.5 231.38 L326 231.4 L326.5 231.42 L327 231.45 L327.5 231.47 L328 231.49 L328.5 231.52 L329 231.55 L329.5 231.57 L330 231.6 L330 274 L329.5 273.96 L329 273.91 L328.5 273.87 L328 273.82 L327.5 273.77 L327 273.73 L326.5 273.67 L326 273.62 L325.5 273.57 L325 273.51 L324.5 273.46 L324 273.4 L323.5 273.34 L323 273.28 L322.5 273.22 L322 273.15 L321.5 273.09 L321 273.02 L320.5 272.95 L320 272.88 L319.5 272.81 L319 272.74 L318.5 272.67 L318 272.59 L317.5 272.52 L317 272.44 L316.5 272.36 L316 272.28 L315.5 272.2 L315 272.12 L314.5 272.03 L314 271.95 L313.5 271.86 L313 271.77 L312.5 271.68 L312 271.59 L311.5 271.5 L311 271.4 L310.5 271.31 L310 271.21 L309.5 271.11 L309 271.01 L308.5 270.91 L308 270.81 L307.5 270.71 L307 270.61 L306.5 270.5 L306 270.39 L305.5 270.28 L305 270.18 L304.5 270.06 L304 269.95 L303.5 269.84 L303 269.72 L302.5 269.61 L302 269.49 L301.5 269.37 L301 269.25 L300.5 269.13 L300 269.01 L299.5 268.89 L299 268.76 L298.5 268.64 L298 268.51 L297.5 268.38 L297 268.25 L296.5 268.12 L296 267.99 L295.5 267.85 L295 267.72 L294.5 267.58 L294 267.45 L293.5 267.31 L293 267.17 L292.5 267.03 L292 266.89 L291.5 266.74 L291 266.6 L290.5 266.46 L290 266.31 L289.5 266.16 L289 266.01 L288.5 265.86 L288 265.71 L287.5 265.56 L287 265.4 L286.5 265.25 L286 265.09 L285.5 264.94 L285 264.78 L284.5 264.62 L284 264.46 L283.5 264.3 L283 264.13 L282.5 263.97 L282 263.81 L281.5 263.64 L281 263.47 L280.5 263.3 L280 263.13 L279.5 262.96 L279 262.79 L278.5 262.62 L278 262.45 L277.5 262.27 L277 262.09 L276.5 261.92 L276 261.74 L275.5 261.56 L275 261.38 L274.5 261.2 L274 261.02 L273.5 260.83 L273 260.65 L272.5 260.46 L272 260.27 L271.5 260.09 L271 259.9 L270.5 259.71 L270 259.52 L269.5 259.33 L269 259.13 L268.5 258.94 L268 258.74 L267.5 258.55 L267 258.35 L266.5 258.15 L266 257.95 L265.5 257.75 L265 257.55 L264.5 257.35 L264 257.15 L263.5 256.94 L263 256.74 L262.5 256.53 L262 256.32 L261.5 256.11 L261 255.91 L260.5 255.7 L260 255.48 L259.5 255.27 L259 255.06 L258.5 254.84 L258 254.63 L257.5 254.41 L257 254.19 L256.5 253.97 L256 253.75 L255.5 253.53 L255 253.3 L254.5 253.08 L254 252.85 L253.5 252.62 L253 252.38 L252.5 252.15 L252 251.91 L251.5 251.67 L251 251.43 L250.5 251.18 L250 250.93 L249.5 250.68 L249 250.42 L248.5 250.17 L248 249.91 L247.5 249.64 L247 249.37 L246.5 249.1 L246 248.83 L245.5 248.55 L245 248.27 L244.5 247.98 L244 247.69 L243.5 247.4 L243 247.1 L242.5 246.8 L242 246.49 L241.5 246.18 L241 245.86 L240.5 245.54 L240 245.22 L239.5 244.89 L239 244.55 L238.5 244.21 L238 243.86 L237.5 243.51 L237 243.15 L236.5 242.78 L236 242.4 L235.5 242.01 L235 241.61 L234.5 241.21 L234 240.79 L233.5 240.36 L233 239.92 L232.5 239.47 L232 239 L231.5 238.52 L231 238.03 L230.5 237.52 L230 237 L229.5 236.46 L229 235.9 L228.5 235.33 L228 234.75 L227.5 234.14 L227 233.52 L226.5 232.87 L226 232.21 L225.5 231.53 L225 230.83 L224.5 230.11 L224 229.36 L223.5 228.6 L223 227.81 L222.5 227 L222.4 226.98 L221.9 226.85 L221.4 226.73 L220.9 226.6 L220.4 226.48 L219.9 226.36 L219.4 226.24 L218.9 226.12 L218.4 226 L217.9 225.88 L217.4 225.76 L216.9 225.64 L216.4 225.52 L215.9 225.4 L215.4 225.29 L214.9 225.17 L214.4 225.05 L213.9 224.94 L213.4 224.82 L212.9 224.71 L212.4 224.59 L211.9 224.48 L211.4 224.36 L210.9 224.25 L210.4 224.14 L209.9 224.03 L209.4 223.91 L208.9 223.8 L208.4 223.69 L207.9 223.58 L207.4 223.47 L206.9 223.36 L206.4 223.26 L205.9 223.15 L205.4 223.04 L204.9 222.93 L204.4 222.83 L203.9 222.72 L203.4 222.61 L202.9 222.51 L202.4 222.4 L201.9 222.3 Z" fill="#fde7fd"/>
<path d="M201.9 200.8 L202.4 201.48 L202.9 202.16 L203.4 202.84 L203.9 203.52 L204.4 204.2 L204.9 204.87 L205.4 205.55 L205.9 206.22 L206.4 206.89 L206.9 207.55 L207.4 208.22 L207.9 208.88 L208.4 209.54 L208.9 210.2 L209.4 210.85 L209.9 211.51 L210.4 212.16 L210.9 212.8 L211.4 213.45 L211.9 214.09 L212.4 214.73 L212.9 215.37 L213.4 216.01 L213.9 216.64 L214.4 217.27 L214.9 217.89 L215.4 218.51 L215.9 219.13 L216.4 219.75 L216.9 220.36 L217.4 220.97 L217.9 221.58 L218.4 222.18 L218.9 222.78 L219.4 223.38 L219.9 223.97 L220.4 224.56 L220.9 225.15 L221.4 225.73 L221.9 226.31 L222.4 226.89 L222.5 227 L223 227.36 L223.5 227.72 L224 228.07 L224.5 228.42 L225 228.76 L225.5 229.1 L226 229.43 L226.5 229.76 L227 230.09 L227.5 230.41 L228 230.73 L228.5 231.04 L229 231.35 L229.5 231.66 L230 231.96 L230.5 232.26 L231 232.56 L231.5 232.85 L232 233.14 L232.5 233.43 L233 233.71 L233.5 233.99 L234 234.26 L234.5 234.53 L235 234.8 L235.5 235.07 L236 235.33 L236.5 235.59 L237 235.84 L237.5 236.1 L238 236.35 L238.5 236.59 L239 236.84 L239.5 237.08 L240 237.32 L240.5 237.55 L241 237.79 L241.5 238.02 L242 238.25 L242.5 238.47 L243 238.69 L243.5 238.92 L244 239.13 L244.5 239.35 L245 239.56 L245.5 239.78 L246 239.98 L246.5 240.19 L247 240.4 L247.5 240.6 L248 240.8 L248.5 241 L249 241.2 L249.5 241.39 L250 241.59 L250.5 241.78 L251 241.97 L251.5 242.16 L252 242.35 L252.5 242.53 L253 242.72 L253.5 242.9 L254 243.08 L254.5 243.26 L255 243.44 L255.5 243.62 L256 243.8 L256.5 243.97 L257 244.15 L257.5 244.32 L258 244.49 L258.5 244.66 L259 244.83 L259.5 245 L260 245.17 L260.5 245.34 L261 245.51 L261.5 245.67 L262 245.84 L262.5 246 L263 246.17 L263.5 246.33 L264 246.5 L264.5 246.66 L265 246.82 L265.5 246.98 L266 247.14 L266.5 247.3 L267 247.46 L267.5 247.62 L268 247.77 L268.5 247.93 L269 248.09 L269.5 248.24 L270 248.4 L270.5 248.55 L271 248.71 L271.5 248.86 L272 249.01 L272.5 249.16 L273 249.31 L273.5 249.46 L274 249.61 L274.5 249.76 L275 249.91 L275.5 250.06 L276 250.21 L276.5 250.35 L277 250.5 L277.5 250.64 L278 250.79 L278.5 250.93 L279 251.08 L279.5 251.22 L280 251.36 L280.5 251.5 L281 251.64 L281.5 251.79 L282 251.93 L282.5 252.07 L283 252.2 L283.5 252.34 L284 252.48 L284.5 252.62 L285 252.76 L285.5 252.89 L286 253.03 L286.5 253.16 L287 253.3 L287.5 253.43 L288 253.57 L288.5 253.7 L289 253.83 L289.5 253.96 L290 254.1 L290.5 254.23 L291 254.36 L291.5 254.49 L292 254.62 L292.5 254.75 L293 254.88 L293.5 255 L294 255.13 L294.5 255.26 L295 255.39 L295.5 255.51 L296 255.64 L296.5 255.77 L297 255.89 L297.5 256.02 L298 256.14 L298.5 256.26 L299 256.39 L299.5 256.51 L300 256.63 L300.5 256.76 L301 256.88 L301.5 257 L302 257.12 L302.5 257.24 L303 257.36 L303.5 257.48 L304 257.6 L304.5 257.72 L305 257.84 L305.5 257.96 L306 258.08 L306.5 258.19 L307 258.31 L307.5 258.43 L308 258.54 L308.5 258.66 L309 258.78 L309.5 258.89 L310 259.01 L310.5 259.12 L311 259.24 L311.5 259.35 L312 259.47 L312.5 259.58 L313 259.69 L313.5 259.81 L314 259.92 L314.5 260.03 L315 260.14 L315.5 260.26 L316 260.37 L316.5 260.48 L317 260.59 L317.5 260.7 L318 260.81 L318.5 260.92 L319 261.03 L319.5 261.14 L320 261.25 L320.5 261.36 L321 261.47 L321.5 261.58 L322 261.69 L322.5 261.8 L323 261.91 L323.5 262.01 L324 262.12 L324.5 262.23 L325 262.34 L325.5 262.44 L326 262.55 L326.5 262.66 L327 262.76 L327.5 262.87 L328 262.98 L328.5 263.08 L329 263.19 L329.5 263.29 L330 263.4" fill="none" stroke="#f5b0f5" stroke-width="1.35" stroke-linejoin="round"/>
<line x1="195.5" y1="227" x2="336.4" y2="227" stroke="#4a4a4a" stroke-width="0.75" stroke-dasharray="2.1 1.77"/>
<line x1="222.5" y1="279.2" x2="222.5" y2="167.3" stroke="#b8303e" stroke-width="0.72" stroke-dasharray="1.75 2.0"/>
<text x="224.4" y="223" font-family="Liberation Sans" font-size="5.42" fill="#b01c26" stroke="#b01c26" stroke-width="0.15">Cut−off value = 65 g/d</text>
<rect x="195.5" y="167.3" width="140.9" height="111.9" fill="none" stroke="#c2c2c2" stroke-width="1.1"/>
<line x1="193.8" y1="253" x2="195.5" y2="253" stroke="#4d4d4d" stroke-width="0.7"/>
<text x="193" y="255.35" text-anchor="end" class="tk">0.5</text>
<line x1="193.8" y1="227" x2="195.5" y2="227" stroke="#4d4d4d" stroke-width="0.7"/>
<text x="193" y="229.35" text-anchor="end" class="tk">1.0</text>
<line x1="193.8" y1="200.6" x2="195.5" y2="200.6" stroke="#4d4d4d" stroke-width="0.7"/>
<text x="193" y="202.95" text-anchor="end" class="tk">1.5</text>
<line x1="193.8" y1="174.4" x2="195.5" y2="174.4" stroke="#4d4d4d" stroke-width="0.7"/>
<text x="193" y="176.75" text-anchor="end" class="tk">2.0</text>
<line x1="202" y1="279.2" x2="202" y2="280.9" stroke="#4d4d4d" stroke-width="0.7"/>
<text x="202" y="286.6" text-anchor="middle" class="tk">0</text>
<line x1="234.3" y1="279.2" x2="234.3" y2="280.9" stroke="#4d4d4d" stroke-width="0.7"/>
<text x="234.3" y="286.6" text-anchor="middle" class="tk">100</text>
<line x1="266.6" y1="279.2" x2="266.6" y2="280.9" stroke="#4d4d4d" stroke-width="0.7"/>
<text x="266.6" y="286.6" text-anchor="middle" class="tk">200</text>
<line x1="298.9" y1="279.2" x2="298.9" y2="280.9" stroke="#4d4d4d" stroke-width="0.7"/>
<text x="298.9" y="286.6" text-anchor="middle" class="tk">300</text>
<line x1="331.2" y1="279.2" x2="331.2" y2="280.9" stroke="#4d4d4d" stroke-width="0.7"/>
<text x="331.2" y="286.6" text-anchor="middle" class="tk">400</text>
<text x="265.95" y="295.4" text-anchor="middle" class="ti">Protein (g/day)</text>
<text transform="translate(181.4 223.25) rotate(-90)" text-anchor="middle" class="ti">OR (95% CI) for CVD</text>
<text x="251.4" y="178.5" class="pv"><tspan font-style="italic">P</tspan><tspan dx="-0.7"> for overall = 0.004</tspan></text>
<text x="251.4" y="187.3" class="pv"><tspan font-style="italic">P</tspan><tspan dx="-0.7"> for nonlinear = 0.356</tspan></text>
<text x="172.2" y="163.2" class="lt">F</text>
<path d="M376.5 247.2 L377 248.22 L377.5 249.23 L378 250.25 L378.5 251.27 L379 252.28 L379.5 253.3 L380 253.28 L380.5 253.25 L381 253.21 L381.5 253.17 L382 253.13 L382.5 253.08 L383 253.03 L383.5 252.98 L384 252.91 L384.5 252.85 L385 252.78 L385.5 252.71 L386 252.63 L386.5 252.54 L387 252.46 L387.5 252.37 L388 252.27 L388.5 252.17 L389 252.07 L389.5 251.96 L390 251.85 L390.5 251.73 L391 251.62 L391.5 251.49 L392 251.37 L392.5 251.24 L393 251.1 L393.5 250.96 L394 250.82 L394.5 250.68 L395 250.53 L395.5 250.38 L396 250.22 L396.5 250.07 L397 249.9 L397.5 249.74 L398 249.57 L398.5 249.4 L399 249.22 L399.5 249.05 L400 248.87 L400.5 248.68 L401 248.5 L401.5 248.31 L402 248.11 L402.5 247.92 L403 247.72 L403.5 247.52 L404 247.32 L404.5 247.11 L405 246.9 L405.5 246.69 L406 246.48 L406.5 246.26 L407 246.04 L407.5 245.82 L408 245.6 L408.5 245.37 L409 245.15 L409.5 244.92 L410 244.68 L410.5 244.45 L411 244.21 L411.5 243.97 L412 243.73 L412.5 243.49 L413 243.25 L413.5 243 L414 242.75 L414.5 242.5 L415 242.25 L415.5 242 L416 241.75 L416.5 241.49 L417 241.23 L417.5 240.97 L418 240.71 L418.5 240.45 L419 240.19 L419.5 239.92 L420 239.66 L420.5 239.39 L421 239.12 L421.5 238.85 L422 238.58 L422.5 238.31 L423 238.04 L423.5 237.76 L424 237.49 L424.5 237.22 L425 236.94 L425.5 236.66 L426 236.39 L426.5 236.11 L427 235.83 L427.5 235.55 L428 235.27 L428.5 234.99 L429 234.71 L429.5 234.43 L430 234.14 L430.5 233.86 L431 233.58 L431.5 233.3 L432 233.01 L432.5 232.73 L433 232.45 L433.5 232.17 L434 231.88 L434.5 231.6 L435 231.32 L435.5 231.03 L436 230.75 L436.5 230.47 L437 230.19 L437.5 229.9 L438 229.62 L438.5 229.34 L439 229.06 L439.5 228.78 L440 228.5 L440.5 228.22 L441 227.94 L441.5 227.66 L442 227.39 L442.5 227.11 L443 226.84 L443.5 226.56 L444 226.29 L444.5 226.01 L445 225.74 L445.5 225.47 L446 225.2 L446.5 224.83 L447 224.45 L447.5 224.07 L448 223.69 L448.5 223.3 L449 222.92 L449.5 222.53 L450 222.14 L450.5 221.74 L451 221.35 L451.5 220.95 L452 220.55 L452.5 220.14 L453 219.74 L453.5 219.33 L454 218.92 L454.5 218.51 L455 218.1 L455.5 217.68 L456 217.26 L456.5 216.84 L457 216.42 L457.5 216 L458 215.57 L458.5 215.15 L459 214.72 L459.5 214.29 L460 213.86 L460.5 213.42 L461 212.99 L461.5 212.55 L462 212.11 L462.5 211.67 L463 211.23 L463.5 210.79 L464 210.34 L464.5 209.9 L465 209.45 L465.5 209 L466 208.55 L466.5 208.1 L467 207.65 L467.5 207.2 L468 206.74 L468.5 206.29 L469 205.83 L469.5 205.37 L470 204.91 L470.5 204.45 L471 203.99 L471.5 203.53 L472 203.07 L472.5 202.61 L473 202.15 L473.5 201.68 L474 201.22 L474.5 200.75 L475 200.29 L475.5 199.82 L476 199.35 L476.5 198.88 L477 198.42 L477.5 197.95 L478 197.48 L478.5 197.01 L479 196.54 L479.5 196.07 L480 195.6 L480.5 195.13 L481 194.66 L481.5 194.19 L482 193.72 L482.5 193.24 L483 192.77 L483.5 192.3 L484 191.83 L484.5 191.36 L485 190.89 L485.5 190.42 L486 189.95 L486.5 189.48 L487 189.01 L487.5 188.54 L488 188.07 L488.5 187.6 L489 187.13 L489.5 186.66 L490 186.19 L490.5 185.73 L491 185.26 L491.5 184.79 L492 184.33 L492.5 183.86 L493 183.4 L493.5 182.94 L494 182.47 L494.5 182.01 L495 181.55 L495.5 181.09 L496 180.63 L496.5 180.17 L497 179.71 L497.5 179.26 L498 178.8 L498.5 178.35 L499 177.89 L499.5 177.44 L500 176.99 L500.5 176.54 L501 176.09 L501.5 175.64 L502 175.2 L502.5 174.75 L503 174.31 L503.5 173.87 L504 173.43 L504.5 172.99 L504.6 172.9 L504.6 273.6 L504.5 273.59 L504 273.57 L503.5 273.55 L503 273.52 L502.5 273.5 L502 273.47 L501.5 273.45 L501 273.43 L500.5 273.4 L500 273.38 L499.5 273.36 L499 273.34 L498.5 273.32 L498 273.3 L497.5 273.28 L497 273.26 L496.5 273.24 L496 273.22 L495.5 273.2 L495 273.18 L494.5 273.16 L494 273.14 L493.5 273.12 L493 273.1 L492.5 273.08 L492 273.07 L491.5 273.05 L491 273.03 L490.5 273.01 L490 273 L489.5 272.98 L489 272.96 L488.5 272.94 L488 272.93 L487.5 272.91 L487 272.89 L486.5 272.88 L486 272.86 L485.5 272.84 L485 272.83 L484.5 272.81 L484 272.79 L483.5 272.78 L483 272.76 L482.5 272.74 L482 272.73 L481.5 272.71 L481 272.69 L480.5 272.67 L480 272.66 L479.5 272.64 L479 272.62 L478.5 272.61 L478 272.59 L477.5 272.57 L477 272.55 L476.5 272.54 L476 272.52 L475.5 272.5 L475 272.48 L474.5 272.46 L474 272.45 L473.5 272.43 L473 272.41 L472.5 272.39 L472 272.37 L471.5 272.35 L471 272.33 L470.5 272.31 L470 272.29 L469.5 272.27 L469 272.25 L468.5 272.22 L468 272.2 L467.5 272.18 L467 272.16 L466.5 272.14 L466 272.11 L465.5 272.09 L465 272.06 L464.5 272.04 L464 272.02 L463.5 271.99 L463 271.97 L462.5 271.94 L462 271.91 L461.5 271.89 L461 271.86 L460.5 271.83 L460 271.8 L459.5 271.77 L459 271.75 L458.5 271.72 L458 271.69 L457.5 271.65 L457 271.62 L456.5 271.59 L456 271.56 L455.5 271.53 L455 271.49 L454.5 271.46 L454 271.42 L453.5 271.39 L453 271.35 L452.5 271.31 L452 271.28 L451.5 271.24 L451 271.2 L450.5 271.16 L450 271.12 L449.5 271.08 L449 271.04 L448.5 271 L448 270.95 L447.5 270.91 L447 270.87 L446.5 270.82 L446 270.78 L445.5 270.73 L445 270.68 L444.5 270.63 L444 270.58 L443.5 270.53 L443 270.48 L442.5 270.43 L442 270.38 L441.5 270.33 L441 270.27 L440.5 270.22 L440 270.16 L439.5 270.1 L439 270.05 L438.5 269.99 L438 269.93 L437.5 269.87 L437 269.81 L436.5 269.74 L436 269.68 L435.5 269.62 L435 269.55 L434.5 269.48 L434 269.42 L433.5 269.35 L433 269.28 L432.5 269.21 L432 269.14 L431.5 269.06 L431 268.99 L430.5 268.91 L430 268.84 L429.5 268.76 L429 268.68 L428.5 268.6 L428 268.52 L427.5 268.44 L427 268.36 L426.5 268.28 L426 268.19 L425.5 268.1 L425 268.02 L424.5 267.93 L424 267.84 L423.5 267.75 L423 267.66 L422.5 267.56 L422 267.47 L421.5 267.37 L421 267.27 L420.5 267.17 L420 267.07 L419.5 266.97 L419 266.87 L418.5 266.77 L418 266.66 L417.5 266.55 L417 266.45 L416.5 266.34 L416 266.23 L415.5 266.11 L415 266 L414.5 265.88 L414 265.77 L413.5 265.65 L413 265.53 L412.5 265.41 L412 265.29 L411.5 265.16 L411 265.04 L410.5 264.91 L410 264.78 L409.5 264.65 L409 264.52 L408.5 264.39 L408 264.26 L407.5 264.12 L407 263.98 L406.5 263.84 L406 263.7 L405.5 263.56 L405 263.42 L404.5 263.27 L404 263.12 L403.5 262.97 L403 262.82 L402.5 262.67 L402 262.52 L401.5 262.36 L401 262.21 L400.5 262.05 L400 261.89 L399.5 261.72 L399 261.56 L398.5 261.39 L398 261.23 L397.5 261.06 L397 260.89 L396.5 260.71 L396 260.54 L395.5 260.36 L395 260.18 L394.5 260 L394 259.82 L393.5 259.64 L393 259.45 L392.5 259.26 L392 259.08 L391.5 258.88 L391 258.69 L390.5 258.5 L390 258.3 L389.5 258.1 L389 257.9 L388.5 257.7 L388 257.49 L387.5 257.28 L387 257.08 L386.5 256.87 L386 256.65 L385.5 256.44 L385 256.22 L384.5 256 L384 255.78 L383.5 255.56 L383 255.33 L382.5 255.11 L382 254.88 L381.5 254.65 L381 254.41 L380.5 254.18 L380 253.94 L379.5 253.7 L379 253.85 L378.5 254 L378 254.15 L377.5 254.3 L377 254.45 L376.5 254.6 Z" fill="#fde7fd"/>
<path d="M376.5 250.8 L377 251.23 L377.5 251.67 L378 252.1 L378.5 252.53 L379 252.97 L379.5 253.4 L380 253.51 L380.5 253.62 L381 253.72 L381.5 253.83 L382 253.93 L382.5 254.04 L383 254.14 L383.5 254.24 L384 254.35 L384.5 254.45 L385 254.55 L385.5 254.65 L386 254.75 L386.5 254.85 L387 254.94 L387.5 255.04 L388 255.14 L388.5 255.23 L389 255.32 L389.5 255.42 L390 255.51 L390.5 255.6 L391 255.7 L391.5 255.79 L392 255.88 L392.5 255.97 L393 256.05 L393.5 256.14 L394 256.23 L394.5 256.32 L395 256.4 L395.5 256.49 L396 256.57 L396.5 256.66 L397 256.74 L397.5 256.82 L398 256.91 L398.5 256.99 L399 257.07 L399.5 257.15 L400 257.23 L400.5 257.31 L401 257.39 L401.5 257.46 L402 257.54 L402.5 257.62 L403 257.69 L403.5 257.77 L404 257.84 L404.5 257.92 L405 257.99 L405.5 258.07 L406 258.14 L406.5 258.21 L407 258.28 L407.5 258.35 L408 258.42 L408.5 258.49 L409 258.56 L409.5 258.63 L410 258.7 L410.5 258.77 L411 258.83 L411.5 258.9 L412 258.97 L412.5 259.03 L413 259.1 L413.5 259.16 L414 259.23 L414.5 259.29 L415 259.35 L415.5 259.42 L416 259.48 L416.5 259.54 L417 259.6 L417.5 259.66 L418 259.72 L418.5 259.78 L419 259.84 L419.5 259.9 L420 259.96 L420.5 260.02 L421 260.08 L421.5 260.14 L422 260.19 L422.5 260.25 L423 260.31 L423.5 260.36 L424 260.42 L424.5 260.47 L425 260.53 L425.5 260.58 L426 260.64 L426.5 260.69 L427 260.74 L427.5 260.8 L428 260.85 L428.5 260.9 L429 260.95 L429.5 261 L430 261.06 L430.5 261.11 L431 261.16 L431.5 261.21 L432 261.26 L432.5 261.31 L433 261.36 L433.5 261.41 L434 261.46 L434.5 261.5 L435 261.55 L435.5 261.6 L436 261.65 L436.5 261.7 L437 261.74 L437.5 261.79 L438 261.84 L438.5 261.88 L439 261.93 L439.5 261.98 L440 262.02 L440.5 262.07 L441 262.11 L441.5 262.16 L442 262.2 L442.5 262.25 L443 262.29 L443.5 262.34 L444 262.38 L444.5 262.42 L445 262.47 L445.5 262.51 L446 262.55 L446.5 262.6 L447 262.64 L447.5 262.68 L448 262.73 L448.5 262.77 L449 262.81 L449.5 262.85 L450 262.9 L450.5 262.94 L451 262.98 L451.5 263.02 L452 263.06 L452.5 263.11 L453 263.15 L453.5 263.19 L454 263.23 L454.5 263.27 L455 263.31 L455.5 263.35 L456 263.39 L456.5 263.44 L457 263.48 L457.5 263.52 L458 263.56 L458.5 263.6 L459 263.64 L459.5 263.68 L460 263.72 L460.5 263.76 L461 263.8 L461.5 263.84 L462 263.88 L462.5 263.92 L463 263.96 L463.5 264 L464 264.04 L464.5 264.09 L465 264.13 L465.5 264.17 L466 264.21 L466.5 264.25 L467 264.29 L467.5 264.33 L468 264.37 L468.5 264.41 L469 264.45 L469.5 264.49 L470 264.53 L470.5 264.57 L471 264.62 L471.5 264.66 L472 264.7 L472.5 264.74 L473 264.78 L473.5 264.82 L474 264.86 L474.5 264.9 L475 264.95 L475.5 264.99 L476 265.03 L476.5 265.07 L477 265.12 L477.5 265.16 L478 265.2 L478.5 265.24 L479 265.29 L479.5 265.33 L480 265.37 L480.5 265.42 L481 265.46 L481.5 265.5 L482 265.55 L482.5 265.59 L483 265.64 L483.5 265.68 L484 265.72 L484.5 265.77 L485 265.81 L485.5 265.86 L486 265.91 L486.5 265.95 L487 266 L487.5 266.04 L488 266.09 L488.5 266.14 L489 266.18 L489.5 266.23 L490 266.28 L490.5 266.33 L491 266.37 L491.5 266.42 L492 266.47 L492.5 266.52 L493 266.57 L493.5 266.62 L494 266.67 L494.5 266.72 L495 266.77 L495.5 266.82 L496 266.87 L496.5 266.92 L497 266.97 L497.5 267.02 L498 267.08 L498.5 267.13 L499 267.18 L499.5 267.24 L500 267.29 L500.5 267.34 L501 267.4 L501.5 267.45 L502 267.51 L502.5 267.56 L503 267.62 L503.5 267.67 L504 267.73 L504.5 267.79 L504.6 267.8" fill="none" stroke="#f5b0f5" stroke-width="1.35" stroke-linejoin="round"/>
<line x1="370.2" y1="253.5" x2="510.5" y2="253.5" stroke="#4a4a4a" stroke-width="0.75" stroke-dasharray="2.1 1.77"/>
<rect x="370.2" y="167.3" width="140.3" height="111.9" fill="none" stroke="#c2c2c2" stroke-width="1.1"/>
<line x1="368.5" y1="274.4" x2="370.2" y2="274.4" stroke="#4d4d4d" stroke-width="0.7"/>
<text x="367.7" y="276.75" text-anchor="end" class="tk">0</text>
<line x1="368.5" y1="253.5" x2="370.2" y2="253.5" stroke="#4d4d4d" stroke-width="0.7"/>
<text x="367.7" y="255.85" text-anchor="end" class="tk">1</text>
<line x1="368.5" y1="232.2" x2="370.2" y2="232.2" stroke="#4d4d4d" stroke-width="0.7"/>
<text x="367.7" y="234.55" text-anchor="end" class="tk">2</text>
<line x1="368.5" y1="211.1" x2="370.2" y2="211.1" stroke="#4d4d4d" stroke-width="0.7"/>
<text x="367.7" y="213.45" text-anchor="end" class="tk">3</text>
<line x1="368.5" y1="190" x2="370.2" y2="190" stroke="#4d4d4d" stroke-width="0.7"/>
<text x="367.7" y="192.35" text-anchor="end" class="tk">4</text>
<line x1="368.5" y1="168.9" x2="370.2" y2="168.9" stroke="#4d4d4d" stroke-width="0.7"/>
<text x="367.7" y="171.25" text-anchor="end" class="tk">5</text>
<line x1="376.9" y1="279.2" x2="376.9" y2="280.9" stroke="#4d4d4d" stroke-width="0.7"/>
<text x="376.9" y="286.6" text-anchor="middle" class="tk">0</text>
<line x1="424.5" y1="279.2" x2="424.5" y2="280.9" stroke="#4d4d4d" stroke-width="0.7"/>
<text x="424.5" y="286.6" text-anchor="middle" class="tk">10,000</text>
<line x1="472.2" y1="279.2" x2="472.2" y2="280.9" stroke="#4d4d4d" stroke-width="0.7"/>
<text x="472.2" y="286.6" text-anchor="middle" class="tk">20,000</text>
<text x="440.35" y="295.4" text-anchor="middle" class="ti">Vitamin A, RAE (mcg/day)</text>
<text transform="translate(351.6 223.25) rotate(-90)" text-anchor="middle" class="ti">OR (95% CI) for CVD</text>
<text x="426.2" y="178.5" class="pv"><tspan font-style="italic">P</tspan><tspan dx="-0.7"> for overall = 0.320</tspan></text>
<text x="426.2" y="187.3" class="pv"><tspan font-style="italic">P</tspan><tspan dx="-0.7"> for nonlinear = 0.488</tspan></text>
<text x="343.6" y="163.3" class="lt">G</text>
<path d="M547 273.2 L547.5 273.18 L548 273.16 L548.5 273.13 L549 273.11 L549.5 273.09 L550 273.07 L550.5 273.05 L551 273.03 L551.5 273.01 L552 272.99 L552.5 272.98 L553 272.96 L553.5 272.94 L554 272.92 L554.5 272.9 L555 272.89 L555.5 272.87 L556 272.85 L556.5 272.83 L557 272.82 L557.5 272.8 L558 272.78 L558.5 272.76 L559 272.75 L559.5 272.73 L560 272.71 L560.5 272.69 L561 272.67 L561.5 272.65 L562 272.63 L562.5 272.61 L563 272.59 L563.5 272.57 L564 272.55 L564.5 272.53 L565 272.51 L565.5 272.48 L566 272.46 L566.5 272.43 L567 272.41 L567.5 272.38 L568 272.36 L568.5 272.33 L569 272.3 L569.5 272.27 L570 272.24 L570.5 272.21 L571 272.18 L571.5 272.14 L572 272.11 L572.5 272.07 L573 272.04 L573.5 272 L574 271.96 L574.5 271.92 L575 271.88 L575.5 271.84 L576 271.8 L576.5 271.75 L577 271.7 L577.5 271.66 L578 271.61 L578.5 271.55 L579 271.5 L579.5 271.45 L580 271.39 L580.5 271.34 L581 271.28 L581.5 271.22 L582 271.15 L582.5 271.09 L583 271.02 L583.5 270.96 L584 270.89 L584.5 270.81 L585 270.74 L585.5 270.67 L586 270.59 L586.5 270.51 L587 270.43 L587.5 270.34 L588 270.26 L588.5 270.17 L589 270.08 L589.5 269.99 L590 269.89 L590.5 269.8 L591 269.7 L591.5 269.59 L592 269.49 L592.5 269.38 L593 269.27 L593.5 269.16 L594 269.05 L594.5 268.93 L595 268.81 L595.5 268.69 L596 268.57 L596.5 268.44 L597 268.31 L597.5 268.17 L598 268.04 L598.5 267.9 L599 267.76 L599.5 267.61 L600 267.47 L600.5 267.32 L601 267.16 L601.5 267.01 L602 266.85 L602.5 266.68 L603 266.52 L603.5 266.35 L604 266.17 L604.5 266 L605 265.82 L605.5 265.64 L606 265.45 L606.5 265.26 L607 265.07 L607.5 264.87 L608 264.67 L608.5 264.47 L609 264.26 L609.5 264.05 L610 263.84 L610.5 263.62 L611 263.4 L611.5 263.18 L612 262.95 L612.5 262.71 L613 262.48 L613.5 262.24 L614 261.99 L614.5 261.74 L615 261.49 L615.5 261.24 L616 260.97 L616.5 260.71 L617 260.44 L617.5 260.17 L618 259.89 L618.5 259.61 L619 259.32 L619.5 259.04 L620 258.74 L620.5 258.44 L621 258.14 L621.5 257.83 L622 257.52 L622.5 257.2 L623 256.88 L623.5 256.56 L624 256.23 L624.5 255.89 L625 255.55 L625.5 255.21 L626 254.86 L626.5 254.51 L627 254.15 L627.5 253.79 L628 253.42 L628.5 253.04 L629 252.67 L629.5 252.28 L630 251.9 L630.5 251.5 L631 251.1 L631.5 250.7 L632 250.29 L632.5 249.88 L633 249.46 L633.5 249.04 L634 248.61 L634.5 248.17 L635 247.73 L635.5 247.29 L636 246.84 L636.5 246.38 L637 245.92 L637.5 245.45 L638 244.98 L638.5 244.5 L639 243.49 L639.5 242.49 L640 241.49 L640.5 240.48 L641 239.48 L641.5 238.48 L642 237.48 L642.5 236.48 L643 235.48 L643.5 234.48 L644 233.49 L644.5 232.49 L645 231.49 L645.5 230.5 L646 229.51 L646.5 228.51 L647 227.52 L647.5 226.53 L648 225.54 L648.5 224.55 L649 223.56 L649.5 222.57 L650 221.58 L650.5 220.59 L651 219.6 L651.5 218.62 L652 217.63 L652.5 216.65 L653 215.66 L653.5 214.68 L654 213.7 L654.5 212.71 L655 211.73 L655.5 210.75 L656 209.77 L656.5 208.79 L657 207.81 L657.5 206.83 L658 205.85 L658.5 204.88 L659 203.9 L659.5 202.92 L660 201.95 L660.5 200.97 L661 200 L661.5 199.03 L662 198.05 L662.5 197.08 L663 196.11 L663.5 195.14 L664 194.17 L664.5 193.21 L665 192.24 L665.5 191.27 L666 190.31 L666.5 189.34 L667 188.38 L667.5 187.42 L668 186.46 L668.5 185.49 L669 184.53 L669.5 183.58 L670 182.62 L670.5 181.66 L671 180.7 L671.5 179.75 L672 178.79 L672.5 177.84 L673 176.88 L673.5 175.93 L674 174.97 L674.5 174.02 L675 173.07 L675.3 172.5 L675.3 269 L675 269.02 L674.5 269.05 L674 269.08 L673.5 269.11 L673 269.14 L672.5 269.17 L672 269.2 L671.5 269.23 L671 269.26 L670.5 269.29 L670 269.32 L669.5 269.35 L669 269.38 L668.5 269.41 L668 269.44 L667.5 269.47 L667 269.5 L666.5 269.53 L666 269.56 L665.5 269.59 L665 269.62 L664.5 269.65 L664 269.68 L663.5 269.71 L663 269.74 L662.5 269.77 L662 269.8 L661.5 269.83 L661 269.86 L660.5 269.89 L660 269.92 L659.5 269.95 L659 269.98 L658.5 270.01 L658 270.03 L657.5 270.06 L657 270.09 L656.5 270.12 L656 270.15 L655.5 270.18 L655 270.21 L654.5 270.24 L654 270.27 L653.5 270.3 L653 270.32 L652.5 270.35 L652 270.38 L651.5 270.41 L651 270.44 L650.5 270.47 L650 270.5 L649.5 270.52 L649 270.55 L648.5 270.58 L648 270.61 L647.5 270.64 L647 270.66 L646.5 270.69 L646 270.72 L645.5 270.75 L645 270.77 L644.5 270.8 L644 270.83 L643.5 270.86 L643 270.88 L642.5 270.91 L642 270.94 L641.5 270.97 L641 270.99 L640.5 271.02 L640 271.05 L639.5 271.07 L639 271.1 L638.5 271.13 L638 271.15 L637.5 271.18 L637 271.21 L636.5 271.23 L636 271.26 L635.5 271.28 L635 271.31 L634.5 271.34 L634 271.36 L633.5 271.39 L633 271.41 L632.5 271.44 L632 271.46 L631.5 271.49 L631 271.51 L630.5 271.54 L630 271.56 L629.5 271.59 L629 271.61 L628.5 271.64 L628 271.66 L627.5 271.69 L627 271.71 L626.5 271.73 L626 271.76 L625.5 271.78 L625 271.81 L624.5 271.83 L624 271.85 L623.5 271.88 L623 271.9 L622.5 271.92 L622 271.95 L621.5 271.97 L621 271.99 L620.5 272.02 L620 272.04 L619.5 272.06 L619 272.08 L618.5 272.11 L618 272.13 L617.5 272.15 L617 272.17 L616.5 272.19 L616 272.21 L615.5 272.24 L615 272.26 L614.5 272.28 L614 272.3 L613.5 272.32 L613 272.34 L612.5 272.36 L612 272.38 L611.5 272.4 L611 272.42 L610.5 272.44 L610 272.46 L609.5 272.48 L609 272.5 L608.5 272.52 L608 272.54 L607.5 272.56 L607 272.58 L606.5 272.6 L606 272.62 L605.5 272.64 L605 272.65 L604.5 272.67 L604 272.69 L603.5 272.71 L603 272.73 L602.5 272.74 L602 272.76 L601.5 272.78 L601 272.8 L600.5 272.81 L600 272.83 L599.5 272.85 L599 272.86 L598.5 272.88 L598 272.9 L597.5 272.91 L597 272.93 L596.5 272.94 L596 272.96 L595.5 272.98 L595 272.99 L594.5 273.01 L594 273.02 L593.5 273.04 L593 273.05 L592.5 273.06 L592 273.08 L591.5 273.09 L591 273.11 L590.5 273.12 L590 273.13 L589.5 273.15 L589 273.16 L588.5 273.17 L588 273.18 L587.5 273.2 L587 273.21 L586.5 273.22 L586 273.23 L585.5 273.25 L585 273.26 L584.5 273.27 L584 273.28 L583.5 273.29 L583 273.3 L582.5 273.31 L582 273.32 L581.5 273.33 L581 273.34 L580.5 273.35 L580 273.36 L579.5 273.37 L579 273.38 L578.5 273.39 L578 273.4 L577.5 273.41 L577 273.42 L576.5 273.42 L576 273.43 L575.5 273.44 L575 273.45 L574.5 273.45 L574 273.46 L573.5 273.47 L573 273.47 L572.5 273.48 L572 273.49 L571.5 273.49 L571 273.5 L570.5 273.5 L570 273.51 L569.5 273.51 L569 273.52 L568.5 273.52 L568 273.53 L567.5 273.53 L567 273.54 L566.5 273.54 L566 273.54 L565.5 273.55 L565 273.55 L564.5 273.55 L564 273.56 L563.5 273.56 L563 273.56 L562.5 273.56 L562 273.56 L561.5 273.57 L561 273.57 L560.5 273.57 L560 273.57 L559.5 273.57 L559 273.57 L558.5 273.57 L558 273.57 L557.5 273.57 L557 273.57 L556.5 273.57 L556 273.57 L555.5 273.56 L555 273.56 L554.5 273.56 L554 273.56 L553.5 273.56 L553 273.55 L552.5 273.55 L552 273.55 L551.5 273.54 L551 273.54 L550.5 273.54 L550 273.53 L549.5 273.53 L549 273.52 L548.5 273.52 L548 273.51 L547.5 273.51 L547 273.5 Z" fill="#fde7fd"/>
<path d="M547 273.3 L547.5 273.32 L548 273.34 L548.5 273.35 L549 273.37 L549.5 273.39 L550 273.4 L550.5 273.41 L551 273.43 L551.5 273.44 L552 273.45 L552.5 273.46 L553 273.47 L553.5 273.47 L554 273.48 L554.5 273.49 L555 273.49 L555.5 273.5 L556 273.5 L556.5 273.5 L557 273.5 L557.5 273.5 L558 273.5 L558.5 273.5 L559 273.5 L559.5 273.5 L560 273.49 L560.5 273.49 L561 273.48 L561.5 273.47 L562 273.47 L562.5 273.46 L563 273.45 L563.5 273.44 L564 273.43 L564.5 273.41 L565 273.4 L565.5 273.39 L566 273.37 L566.5 273.35 L567 273.34 L567.5 273.32 L568 273.3 L568.5 273.28 L569 273.26 L569.5 273.24 L570 273.22 L570.5 273.2 L571 273.17 L571.5 273.15 L572 273.12 L572.5 273.1 L573 273.07 L573.5 273.04 L574 273.01 L574.5 272.99 L575 272.96 L575.5 272.92 L576 272.89 L576.5 272.86 L577 272.83 L577.5 272.79 L578 272.76 L578.5 272.72 L579 272.68 L579.5 272.65 L580 272.61 L580.5 272.57 L581 272.53 L581.5 272.49 L582 272.45 L582.5 272.4 L583 272.36 L583.5 272.32 L584 272.27 L584.5 272.23 L585 272.18 L585.5 272.13 L586 272.08 L586.5 272.03 L587 271.99 L587.5 271.93 L588 271.88 L588.5 271.83 L589 271.78 L589.5 271.73 L590 271.67 L590.5 271.62 L591 271.56 L591.5 271.51 L592 271.45 L592.5 271.39 L593 271.33 L593.5 271.27 L594 271.21 L594.5 271.15 L595 271.09 L595.5 271.03 L596 270.96 L596.5 270.9 L597 270.84 L597.5 270.77 L598 270.71 L598.5 270.64 L599 270.57 L599.5 270.5 L600 270.44 L600.5 270.37 L601 270.3 L601.5 270.22 L602 270.15 L602.5 270.08 L603 270.01 L603.5 269.93 L604 269.86 L604.5 269.79 L605 269.71 L605.5 269.63 L606 269.56 L606.5 269.48 L607 269.4 L607.5 269.32 L608 269.24 L608.5 269.16 L609 269.08 L609.5 269 L610 268.92 L610.5 268.83 L611 268.75 L611.5 268.66 L612 268.58 L612.5 268.49 L613 268.41 L613.5 268.32 L614 268.23 L614.5 268.15 L615 268.06 L615.5 267.97 L616 267.88 L616.5 267.79 L617 267.7 L617.5 267.6 L618 267.51 L618.5 267.42 L619 267.32 L619.5 267.23 L620 267.13 L620.5 267.04 L621 266.94 L621.5 266.85 L622 266.75 L622.5 266.65 L623 266.55 L623.5 266.45 L624 266.35 L624.5 266.25 L625 266.15 L625.5 266.05 L626 265.95 L626.5 265.85 L627 265.74 L627.5 265.64 L628 265.53 L628.5 265.43 L629 265.32 L629.5 265.22 L630 265.11 L630.5 265 L631 264.9 L631.5 264.79 L632 264.68 L632.5 264.57 L633 264.46 L633.5 264.35 L634 264.24 L634.5 264.13 L635 264.01 L635.5 263.9 L636 263.79 L636.5 263.67 L637 263.56 L637.5 263.45 L637.7 263.4 L638.2 263.24 L638.7 263.08 L639.2 262.92 L639.7 262.76 L640.2 262.6 L640.7 262.43 L641.2 262.27 L641.7 262.11 L642.2 261.95 L642.7 261.78 L643.2 261.62 L643.7 261.45 L644.2 261.29 L644.7 261.12 L645.2 260.95 L645.7 260.79 L646.2 260.62 L646.7 260.45 L647.2 260.28 L647.7 260.12 L648.2 259.95 L648.7 259.78 L649.2 259.61 L649.7 259.44 L650.2 259.27 L650.7 259.09 L651.2 258.92 L651.7 258.75 L652.2 258.58 L652.7 258.4 L653.2 258.23 L653.7 258.06 L654.2 257.88 L654.7 257.71 L655.2 257.53 L655.7 257.36 L656.2 257.18 L656.7 257.01 L657.2 256.83 L657.7 256.65 L658.2 256.47 L658.7 256.3 L659.2 256.12 L659.7 255.94 L660.2 255.76 L660.7 255.58 L661.2 255.4 L661.7 255.22 L662.2 255.03 L662.7 254.85 L663.2 254.67 L663.7 254.49 L664.2 254.3 L664.7 254.12 L665.2 253.93 L665.7 253.75 L666.2 253.56 L666.7 253.38 L667.2 253.19 L667.7 253 L668.2 252.81 L668.7 252.63 L669.2 252.44 L669.7 252.25 L670.2 252.06 L670.7 251.87 L671.2 251.68 L671.7 251.49 L672.2 251.3 L672.7 251.1 L673.2 250.91 L673.7 250.72 L674.2 250.53 L674.7 250.33 L675.2 250.14 L675.3 250.1" fill="none" stroke="#f5b0f5" stroke-width="1.35" stroke-linejoin="round"/>
<line x1="541.1" y1="273.5" x2="681.5" y2="273.5" stroke="#4a4a4a" stroke-width="0.75" stroke-dasharray="2.1 1.77"/>
<rect x="541.1" y="167.3" width="140.4" height="111.9" fill="none" stroke="#c2c2c2" stroke-width="1.1"/>
<line x1="539.4" y1="275.8" x2="541.1" y2="275.8" stroke="#4d4d4d" stroke-width="0.7"/>
<text x="538.6" y="278.15" text-anchor="end" class="tk">0</text>
<line x1="539.4" y1="251.8" x2="541.1" y2="251.8" stroke="#4d4d4d" stroke-width="0.7"/>
<text x="538.6" y="254.15" text-anchor="end" class="tk">10</text>
<line x1="539.4" y1="227.8" x2="541.1" y2="227.8" stroke="#4d4d4d" stroke-width="0.7"/>
<text x="538.6" y="230.15" text-anchor="end" class="tk">20</text>
<line x1="539.4" y1="203.8" x2="541.1" y2="203.8" stroke="#4d4d4d" stroke-width="0.7"/>
<text x="538.6" y="206.15" text-anchor="end" class="tk">30</text>
<line x1="539.4" y1="179" x2="541.1" y2="179" stroke="#4d4d4d" stroke-width="0.7"/>
<text x="538.6" y="181.35" text-anchor="end" class="tk">40</text>
<line x1="547.3" y1="279.2" x2="547.3" y2="280.9" stroke="#4d4d4d" stroke-width="0.7"/>
<text x="547.3" y="286.6" text-anchor="middle" class="tk">0</text>
<line x1="579.5" y1="279.2" x2="579.5" y2="280.9" stroke="#4d4d4d" stroke-width="0.7"/>
<text x="579.5" y="286.6" text-anchor="middle" class="tk">250</text>
<line x1="611.6" y1="279.2" x2="611.6" y2="280.9" stroke="#4d4d4d" stroke-width="0.7"/>
<text x="611.6" y="286.6" text-anchor="middle" class="tk">500</text>
<line x1="643.7" y1="279.2" x2="643.7" y2="280.9" stroke="#4d4d4d" stroke-width="0.7"/>
<text x="643.7" y="286.6" text-anchor="middle" class="tk">750</text>
<line x1="675.8" y1="279.2" x2="675.8" y2="280.9" stroke="#4d4d4d" stroke-width="0.7"/>
<text x="675.8" y="286.6" text-anchor="middle" class="tk">1,000</text>
<text x="611.3" y="295.4" text-anchor="middle" class="ti">Total sugars (g/day)</text>
<text transform="translate(525.8 223.25) rotate(-90)" text-anchor="middle" class="ti">OR (95% CI) for CVD</text>
<text x="596.6" y="178.5" class="pv"><tspan font-style="italic">P</tspan><tspan dx="-0.7"> for overall = 0.002</tspan></text>
<text x="596.6" y="187.3" class="pv"><tspan font-style="italic">P</tspan><tspan dx="-0.7"> for nonlinear = 0.303</tspan></text>
<text x="518.2" y="163.3" class="lt">H</text>
</svg>
</body></html>
